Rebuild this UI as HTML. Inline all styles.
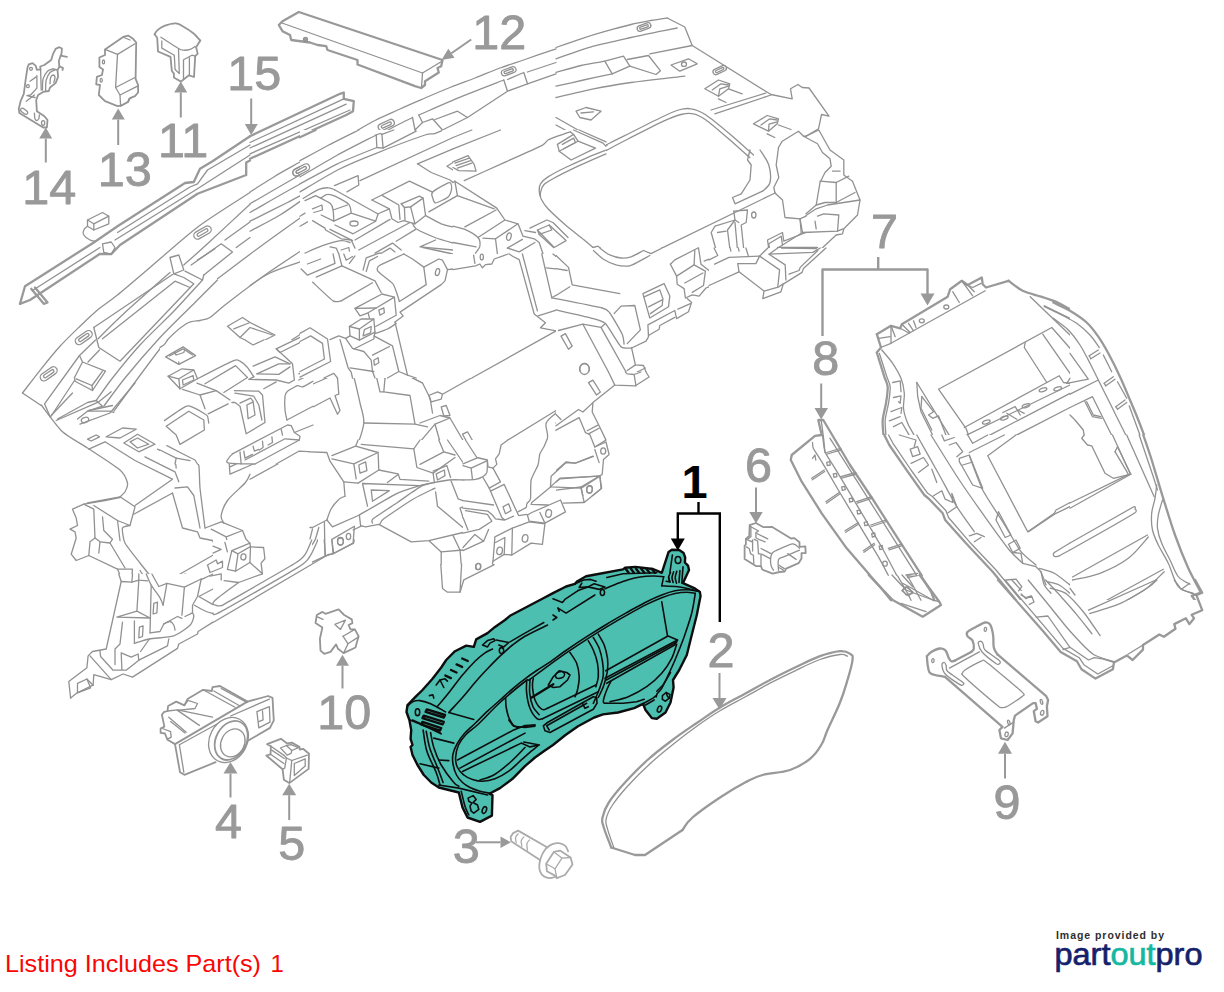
<!DOCTYPE html>
<html lang="en">
<head>
<meta charset="utf-8">
<title>Instrument Cluster Parts Diagram</title>
<style>
html,body{margin:0;padding:0;background:#fff;}
body{width:1224px;height:992px;overflow:hidden;position:relative;font-family:"Liberation Sans",sans-serif;}
svg{position:absolute;left:0;top:0;display:block;}
svg path,svg ellipse,svg rect{fill:none;stroke:#919191;stroke-width:1.3;stroke-linejoin:round;stroke-linecap:round;}
svg .o path,svg .o ellipse,svg path.o{stroke-width:2.3;stroke:#999;}
svg .o2 path,svg .o2 ellipse{stroke-width:1.8;stroke:#959595;}
svg .t path,svg .t ellipse{stroke:#0d0d0d;stroke-width:1.6;}
svg .t path.tf{fill:#4cbfb0;stroke:#0d0d0d;stroke-width:2.4;}
svg .t path.tk{stroke-width:2.4;}
svg rect.w,svg path.wf{fill:#fff;stroke:none;}
svg ellipse.wfs{fill:#fff;}
svg .lt path{stroke:#ababab;}
svg .ar path{stroke:#999;stroke-width:2.4;stroke-linecap:butt;}
svg .ar path.h{fill:#999;stroke:none;}
svg .ar path.s{stroke-width:2;}
svg .ab path{stroke:#000;stroke-width:2.4;stroke-linecap:butt;stroke-linejoin:miter;}
svg .ab path.h{fill:#000;stroke:none;}
svg text{font-family:"Liberation Sans",sans-serif;}
svg .lb text{fill:#999;font-size:48.5px;stroke:#999;stroke-width:0.9px;stroke-linejoin:round;}
svg .lb text.b{fill:#000;font-weight:bold;font-size:47px;stroke:none;}
</style>
</head>
<body>
<svg width="1224" height="992" viewBox="0 0 1224 992">
<!-- 10_small_tl -->
<g class="o2">
<path d="M27.5 67.5 28.8 64.4 32.5 63.1 35.6 65.6 36.9 69.8 40.6 69.4 40.2 66.5 44.4 65 51.2 60 53.1 53.8 55.6 48.8 59.4 47.2 61.9 48.5 61.5 53.8 60 57.5 58.8 61.2 59.4 66.9 57.5 70 58.1 76.9 55.6 83.1 50 87.5 48.8 91 43.1 91.9 38.1 95 36.2 100 36.9 111.2 44.4 116.2 47.5 120 46.9 127.5 43.1 127.5 19.4 113.1 18.8 108.8 20.6 101.2 23.8 93.8 25.6 80Z"/>
<path d="M60.6 55.6 66.9 56.9"/>
<path d="M59.4 66.2 63.1 68.1 62.5 70"/>
<path d="M105 49.4 123.1 36.9 128.1 35.6 133.1 38.8 136.2 42.5 135.6 78.8 138.1 85 138.1 92.5 135 96.2 130 98.1 128.1 101.9 121.2 105.6 117.5 106.2 105 101.2 98.8 95 100 85 96.2 84.4 96.9 76.9 101.9 75 103.1 69.4 99.4 66.9 99.4 57.5 105 55Z"/>
</g>
<ellipse cx="31" cy="68.8" rx="1.4" ry="1.5"/>
<ellipse cx="27.9" cy="86.2" rx="1.4" ry="1.5"/>
<ellipse cx="43.1" cy="123.1" rx="1.6" ry="2.4"/>
<path d="M20.6 110C20.7 109.4 21.4 107.8 22.5 108.1C23.6 108.4 26.9 110.8 27.5 111.9C28.1 112.9 27.2 114.4 26.2 114.4C25.3 114.4 22.8 112.6 21.9 111.9C20.9 111.1 20.5 110.6 20.6 110Z"/>
<path d="M34.4 113.1C34.5 114.2 34.5 117.2 35 118.8C35.5 120.2 36.1 120.6 36.9 120.6C37.6 120.6 38.2 119.9 38.8 118.8C39.2 117.6 39.2 115.8 39.4 115"/>
<path d="M42.5 90C42.6 88.1 42.3 81.9 43.1 78.8C44 75.6 45.8 72.9 47.5 71.2C49.2 69.6 52.2 69.2 53.1 68.8"/>
<path d="M45.6 90.6C45.7 88.9 45.5 83 46.2 80C47 77 48.5 74.2 50 72.5C51.5 70.8 54.2 70.4 55 70"/>
<path d="M50 83.8C50.1 82.5 50 79.2 50.6 77.5C51.2 75.8 52.2 75 53.1 75C54 75 54.9 76 55 77.5C55.1 79 54 81.5 53.8 82.5"/>
<path d="M53.1 68.8 57.5 70"/>
<path d="M30 81.2 36.2 76.9"/>
<path d="M36.9 75.6 36.9 88.1 30.6 95 26.9 95.6 35 97.5"/>
<path d="M26.2 101.2 34.4 95"/>
<path d="M40.6 69.4 41.2 90"/>
<path d="M105 49.4 117.5 54.4 135 43.8"/>
<path d="M117.5 54.4 115.6 87.5 120 95 120.6 106"/>
<path d="M115.6 87.5 135 77.5"/>
<path d="M120 95 137.5 86.2"/>
<path d="M123.8 37.5 130 40"/>
<ellipse cx="103.5" cy="61.9" rx="1.1" ry="1.9"/>
<ellipse cx="101.2" cy="80.2" rx="1.1" ry="1.9"/>
<path d="M128.1 101.9 128.8 98.8 131.9 97.5"/>
<g class="o2">
<path d="M154.6 34.3C155.2 33.5 155.6 31.8 157.6 30.1C159.5 28.5 160.7 27.3 164.3 25.9C167.9 24.6 171.7 23.3 175.6 23.4C179.4 23.6 179.9 24.8 183.5 26.8C187.1 28.8 190.2 30.7 193.6 33.5C196.9 36.2 198.9 39.2 200.3 40.6"/>
<path d="M200.3 40.6 196.1 47.3 197.7 53.6 195.2 56.1 194 77 189 75.3 183.5 79.5 181 81.6 176 78.7 173.9 77.4 173.9 73.6 171.8 70.7 170.5 56.9 158 51.5 157.2 37.7 154.6 34.3"/>
</g>
<path d="M160.9 37.2C163.3 38.7 175.5 46.8 178.5 48.5C181.5 50.3 182 50.1 183.5 50.2C185.1 50.3 188.6 49.9 190.2 49.4C191.8 48.9 194.6 46.8 195.2 46.4"/>
<path d="M161.8 41 161.8 48.1 174.3 55.2 175.1 69.5 179.3 73.6 178.5 49"/>
<path d="M183.5 78.7 183.5 59.8 191.9 55.2 195.2 56.1"/>
<path d="M189.4 57.7 189.4 74.9"/>
<!-- 11_part12 -->
<g class="o">
<path d="M298.8 12 442.5 60 441.2 66.2 437.5 68 438.8 72.5 425 81.2 425 85 421.2 88 415 86.2 357.5 64.5 357.5 60 327.5 50 326.2 46.2 317.5 45 310 42.5 291.2 40 290 35 282.5 31.2 278.8 25 282.5 21.2Z"/>
</g>
<path d="M282 23 422.5 73 442 61.2"/>
<path d="M422.5 73 421.5 87.5"/>
<ellipse cx="305.5" cy="39.5" rx="2" ry="2"/>
<ellipse cx="305.5" cy="39.5" rx="0.9" ry="0.9"/>
<!-- 12_part15 -->
<g class="o">
<path d="M20 303.8 25 286.2 93.8 242.5 117.5 226.2 185 183 193.8 182 200 168.8 212.5 161.2 250 136.2"/>
<path d="M20 303.8 30 300 100 253.8 111.2 254.2 120 245 197.5 193.8 246.2 175 246.2 162.5 250 160.5"/>
<path d="M31.2 288.8 43.8 303.8 47.5 302.5 35 287.5"/>
<path d="M250 136.2 340 93.8 343.8 92.5 343.8 98.8 353.8 101.2 353 111.2 346.2 115 250 158.8"/>
</g>
<path d="M250 142.5 343.8 98.8"/>
<path d="M250 148 346.2 104.2"/>
<path d="M250 153.8 350 110"/>
<path d="M32.5 290.5 100 247.5"/>
<path d="M117.5 232.5 190 187 197.5 183.8 207.5 170 250 145"/>
<path d="M115 240 197.5 188.8 250 155"/>
<path d="M102.5 243.8 111.2 242 115 247.5 111.2 254.2 103.8 252.5Z"/>
<path d="M87.5 220 102.5 212.5 108.8 216.2 108.8 223.8 93.8 230 87.5 226.2Z"/>
<path d="M87.5 220 93.8 223.8 108.8 216.2"/>
<path d="M93.8 223.8 93.8 230"/>
<path d="M87.5 226.2C86.9 226.9 84.4 228.5 83.8 230C83.1 231.5 82.7 233.3 83.8 235C84.8 236.7 88.1 239 90 240C91.9 241 94.2 241 95 241.2"/>
<!-- 20_dash_a -->
<path d="M250 192C254.2 189.4 266.7 181.2 275 176.2C283.3 171.2 291.7 166.7 300 162C308.3 157.3 316.7 152.6 325 148C333.3 143.4 341.7 139.1 350 134.5C358.3 129.9 366.7 124.8 375 120.5C383.3 116.2 391.7 112.8 400 109C408.3 105.2 416.7 101.6 425 98C433.3 94.4 441.7 90.8 450 87.5C458.3 84.2 466.7 81.2 475 78C483.3 74.8 491.7 71.1 500 68C508.3 64.9 515.7 62.7 525 59.5C534.3 56.3 550.8 50.5 556 48.8"/>
<rect x="292.2" y="166.4" width="18.1" height="7.1" rx="3.6" transform="rotate(-28 301.2 170)"/>
<rect x="295.6" y="168.6" width="11.4" height="2.8" rx="1.4" transform="rotate(-28 301.2 170)"/>
<rect x="377.7" y="121.6" width="17.1" height="6.8" rx="3.4" transform="rotate(-25 386.2 125)"/>
<rect x="380.9" y="123.7" width="10.8" height="2.7" rx="1.4" transform="rotate(-25 386.2 125)"/>
<rect x="501.1" y="68.2" width="15.2" height="6" rx="3" transform="rotate(-20 508.8 71.2)"/>
<rect x="503.9" y="70" width="9.6" height="2.4" rx="1.2" transform="rotate(-20 508.8 71.2)"/>
<path d="M250 203.8C260.4 197.8 291.5 179.5 312.5 168C333.5 156.5 365.6 140.5 376.2 135"/>
<path d="M376.2 135 378.8 147.5 383.8 146.2 381.2 133.8"/>
<path d="M381.2 133.8C384 132.3 392.3 127.7 397.5 125C402.7 122.3 410 118.8 412.5 117.5"/>
<path d="M412.5 117.5 415 130 422.5 122.5 418.8 115"/>
<path d="M418.8 115C426 111.9 448.3 102.1 462.5 96.2C476.7 90.4 496.9 82.7 503.8 80"/>
<path d="M503.8 80 507.5 91.2"/>
<path d="M507.5 79.5 523.8 72.5 527.5 83.8"/>
<path d="M527.5 72 556 62.5"/>
<path d="M250 212.5C260.4 206.7 291 188.3 312.5 177.5C334 166.7 367.7 152.5 378.8 147.5"/>
<path d="M383.8 146.2 415 130"/>
<path d="M422.5 122.5 432.5 118.8 442.5 130 467.5 117.5 457.5 111.2 435 119.5"/>
<path d="M467.5 117.5 507.5 91.2 527.5 83.8 556 73.8"/>
<path d="M250 221.2C256.2 218.1 275 208.8 287.5 202.5C300 196.2 313.1 188.3 325 183.8C336.9 179.2 353.1 176.5 358.8 175"/>
<path d="M358.8 175 358.8 185 345 191.2"/>
<path d="M250 231.2C255 228.5 271 220.4 280 215C289 209.6 299.8 201.5 303.8 198.8"/>
<path d="M303.8 198.8 325 187.5 332.5 190 350 211.2 375 220 386.2 212.5 390 208.8"/>
<path d="M315 196.2 322.5 200 330 212.5 345 207.5 332.5 192.5"/>
<path d="M322.5 200 332.5 192.5"/>
<ellipse cx="354.5" cy="223.2" rx="4" ry="2.5"/>
<path d="M311.2 207.5 321.2 203.8 322.5 210 312.5 212.5"/>
<path d="M325 225 350 232.5 355 248"/>
<path d="M303.8 198.8 310 207.5"/>
<path d="M373.8 198.8 407.5 182.5 425 190 435 200 450 193.8 450 183.8 457.5 185 492.5 208.8 515 222.5 522.5 240"/>
<path d="M373.8 198.8 385 207.5 390 208.8 400 208.8 402.5 220 412.5 223.8 422.5 217.5 420 200 410 198.8 403.8 206.2 400 208.8"/>
<path d="M402.5 220 425 225 445 240 475 248"/>
<path d="M422.5 217.5 450 225 490 217.5 492.5 208.8"/>
<path d="M435 200 433.8 192.5 450 183.8"/>
<path d="M420 163.8 447.5 180 450 183.8"/>
<path d="M420 163.8 467.5 155"/>
<path d="M447.5 165 470 156.2 476.2 171.2 460 171.2Z"/>
<path d="M453.8 165 467.5 160 471.2 168.8 461.2 168.8Z"/>
<path d="M465 179.5 500 163.8 540 146.2 556 138"/>
<path d="M556 172.5C554.4 173.8 548.7 177.1 546.2 180C543.8 182.9 541.5 186.2 541.2 190C541 193.8 542.5 198.8 545 202.5C547.5 206.2 554.2 210.8 556 212.5"/>
<ellipse cx="509.2" cy="236.2" rx="2" ry="3.5"/>
<path d="M482.5 235 502.5 230 520 225 525 240 510 248"/>
<path d="M530 227.5 542.5 223.8 556 228.8"/>
<path d="M537.5 232.5 547.5 228.8 556 235"/>
<!-- 20_dash_b -->
<path d="M22.5 393C25 389.8 36.2 375 41.2 368.8C46.2 362.5 54.8 351.9 60 346.2C65.2 340.6 75 331.1 80 326.2C85 321.4 92.5 314.2 97.5 310C102.5 305.8 110.5 300.7 117.5 295C124.5 289.3 139.2 276.7 150 267.5C160.8 258.3 185.4 236.2 198.8 226.2C212.1 216.2 243.2 197 250 192.5"/>
<rect x="74.2" y="333.8" width="19" height="7.5" rx="3.8" transform="rotate(-35 83.8 337.5)"/>
<rect x="77.8" y="336" width="12" height="3" rx="1.5" transform="rotate(-35 83.8 337.5)"/>
<rect x="193" y="228.8" width="19" height="7.5" rx="3.8" transform="rotate(-30 202.5 232.5)"/>
<rect x="196.5" y="231" width="12" height="3" rx="1.5" transform="rotate(-30 202.5 232.5)"/>
<rect x="39.2" y="370" width="19" height="7.5" rx="3.8" transform="rotate(-35 48.8 373.8)"/>
<rect x="42.8" y="372.2" width="12" height="3" rx="1.5" transform="rotate(-35 48.8 373.8)"/>
<path d="M98 338.8C101.6 335.2 115.4 321.3 125 312.5C134.6 303.7 164 277.8 170 272.5"/>
<path d="M170 257.5 178.8 255 183.8 270 173.8 273.8Z"/>
<path d="M183.8 265C187.7 261.5 196.5 253.9 207.5 243.8C218.5 233.6 242.9 210.8 250 204.2"/>
<path d="M95.5 340 79.5 355.5 44.5 403.8 50.5 417.5"/>
<path d="M79.5 355.5 82.5 362 105.5 371.2 92.5 390.5 75 381.2 74.5 377.5 82.5 362"/>
<path d="M76.2 378.8 92 385.5 102.5 371.2"/>
<path d="M92 385.5 92.5 390.5"/>
<path d="M99.5 350 88 362"/>
<path d="M74.5 380.5 50.5 417"/>
<path d="M57.5 419 87.5 402.5 96.2 400.5 102.5 406.2 87.5 411.2 77.5 419"/>
<path d="M87.5 411.2 110 411.2 113.8 412.5"/>
<path d="M93.8 327.5 172.5 274.5"/>
<path d="M93.8 327.5 98.8 347.5 120 361.2 193.8 283.8 183.8 277.5 173.8 273.8"/>
<path d="M102.5 338.8 175 281.2 190 287.5"/>
<path d="M185 271.2 202.5 280 203.8 275"/>
<path d="M191.2 265 221.2 243.8 232.5 252 203.8 275"/>
<path d="M197.5 260 215 248.8"/>
<path d="M217.5 278.8C225 273.1 247.8 255.8 262.5 245C277.2 234.2 298.8 219 306 213.8"/>
<path d="M225 240 250 222"/>
<path d="M236.2 247.5 250 237.5"/>
<path d="M202.5 280C198.8 284 183.3 301.3 175 310C166.7 318.7 148.3 335.9 140 345C131.7 354.1 118.3 370.6 112.5 378C106.7 385.4 98.4 397.5 96.2 400.5"/>
<path d="M103.8 406.2C106.6 402.5 117.5 387.2 125 378C132.5 368.8 150.7 347.6 160 337.5C169.3 327.4 187.3 310.2 195 302.5C202.7 294.8 214.5 283 217.5 280"/>
<path d="M113.8 411.2C120.3 402.4 153.3 356.7 163 345C172.7 333.3 181.3 327 186.2 323.8C191.2 320.5 196.8 321.3 200 320.5C203.2 319.7 206.7 319.6 210 317.5C213.3 315.4 217.7 310.7 225 305C232.3 299.3 254.2 282.7 265 275C275.8 267.3 300.5 251.2 306 247.5"/>
<path d="M227.5 326.2 242.5 317.5 250 322.5 275 335 255 345 240 337.5Z"/>
<path d="M233.8 328.8 250 322.5"/>
<path d="M240 337.5 250 327.5 272.5 335"/>
<path d="M166.2 355 183.8 346.2 195 352.5 188.8 360 178.8 363.8Z"/>
<path d="M175 353.8 186.2 350 187.5 355 176.2 357.5"/>
<path d="M170 373.8 185 368.8 196.2 371.2 197.5 378"/>
<path d="M252.5 366.2 275 356.2 290 363.8 262.5 373.8Z"/>
<path d="M301.2 266.2 306 263.8"/>
<path d="M301.2 266.2 306 273.8"/>
<path d="M22.5 393 41.2 405.5"/>
<!-- 20_dash_c -->
<path d="M250 285.5C253.3 283.4 261.7 277 270 273C278.3 269 289.6 265.5 300 261.8C310.4 258 326.2 252.8 332.5 250.5C338.8 248.2 336.7 248.4 337.5 248"/>
<path d="M302.5 268 332.5 256.8 340 264.2 310 275.5Z"/>
<path d="M313.8 281.8 335 300.5 342.5 299.2 372.5 283"/>
<path d="M340 264.2 375 280.5 381.2 293"/>
<path d="M355 308 381.2 293 393.8 298 395 315.5 375 324.2 368.8 318 357.5 308"/>
<path d="M368.8 318 370 308 393.8 298"/>
<path d="M378.8 309.2 383.8 306.8 383.8 313 378.8 315Z"/>
<path d="M365 270.5 367.5 260.5 397.5 248"/>
<path d="M368.8 269.2 371.2 263 380 259.2"/>
<path d="M377.5 268C378.9 265.6 396.8 255.5 400 254.2C403.2 253 407.5 254.4 410 255.5C412.5 256.6 423.4 262.8 425 265.5C426.6 268.2 428.8 279.5 426.2 283C423.8 286.5 403.2 300 400 300.5C396.8 301 395.1 290.2 393.8 288C392.4 285.8 387.9 280 386.2 278C384.6 276 376.1 270.4 377.5 268Z"/>
<path d="M425 265.5 436.2 259.2 445 263 448.8 271.8 442.5 283 400 310.5 403.8 314.2 400 319.2 396.2 320.5"/>
<ellipse cx="437.5" cy="272.2" rx="2.2" ry="3.5"/>
<path d="M448.8 270.5 476.2 265 475 256.8 480 251.8 487.5 250.5 491.2 260.5 510 251.8 516.2 258"/>
<ellipse cx="482" cy="256.8" rx="2" ry="3.5"/>
<path d="M482.5 268 486.2 264.2 491.2 266.8"/>
<path d="M396.2 323C396.9 327.2 398.1 339.5 400 348C401.9 356.5 406.2 369.9 407.5 374.2"/>
<path d="M390 345.5 398.8 371.8"/>
<path d="M516.2 258C517.7 262.6 521.5 275.9 525 285.5C528.5 295.1 535.4 310.5 537.5 315.5"/>
<path d="M537.5 315.5 547.5 321.8 541.2 328 553.8 331.8 442.5 394.2 437.5 391.8 428.8 395.5 431.2 401.8 441.2 399.2 442.5 394.2"/>
<path d="M521.2 255.5 532.5 293 537.5 310.5"/>
<path d="M525 253 556 293"/>
<path d="M537.5 248 556 270.5"/>
<path d="M348.8 325.5 365 318 375 320.5 373.8 334.2 358.8 344.2 348.8 336.8Z"/>
<path d="M348.8 325.5 360 329.2 375 320.5"/>
<path d="M360 329.2 358.8 344.2"/>
<path d="M363.8 329.2 372.5 325.5 371.2 333 362.5 335.5Z"/>
<path d="M330 339.2 337.5 335.5 350 348 360 348 370 360.5 375 370.5 380 391.8 383.8 391.8"/>
<path d="M337.5 335.5C339.8 340.9 347.5 356.8 351.2 368C355 379.2 357.9 393.8 360 403C362.1 412.2 364.2 415.9 363.8 423C363.3 430.1 358.5 441.8 357.5 445.5"/>
<path d="M360 348 375 343 390 335.5 397.5 368"/>
<path d="M373.8 359.2 378.8 356.8 378.8 363 374.2 365.5Z"/>
<path d="M385 378 400 373 412.5 378 422.5 383 430 398 432.5 413"/>
<path d="M385 378 383.8 391.8 410 395.5 415 424.2"/>
<path d="M412.5 378 422.5 383"/>
<path d="M363.8 423 415 424.2 427.5 426.8"/>
<path d="M350 369.2 373.8 370.5"/>
<path d="M277.5 349.2 310 328 322.5 335.5 330 343 325 360.5 297.5 373"/>
<path d="M285 351.8 310 335.5 322.5 343 323.8 359.2 301.2 370.5"/>
<path d="M277.5 349.2 293.8 363 295 380.5 286.2 383"/>
<path d="M265 388 285 379.2"/>
<path d="M285 395.5 300 385.5 303.8 388 332.5 375.5 337.5 378 338.8 394.2 335 395.5 340 410.5 337.5 414.2 330 398 287.5 420.5Z"/>
<path d="M250 391.8 261.2 389.2 262.5 423 250 430.5"/>
<path d="M250 403 255 401.8 256.2 415.5 250 418"/>
<path d="M250 442.5 288.8 424.2 301.2 438 250 465.5"/>
<path d="M293.8 430.5 297.5 440.5 250 457.5"/>
<path d="M260 435 261.2 442.5 257 445"/>
<path d="M271.2 431.6 272.5 439.1 268.2 441.6"/>
<path d="M281.2 428.6 282.5 436.1 278.2 438.6"/>
<path d="M250 479.2 300 451.8 326.2 453 345 483 343.8 496"/>
<path d="M332.5 459.2 357.5 446.8 377.5 451.8 378.8 469.2 357.5 481.8 346.2 483"/>
<path d="M332.5 459.2 353.8 465.5 377.5 451.8"/>
<path d="M353.8 465.5 355 480.5"/>
<path d="M358.8 465.5 366.2 463 366.2 470.5 359.5 473Z"/>
<path d="M361.2 445.5 413.8 449.2 435 424.2 450 418 440 415.5 420 423"/>
<path d="M413.8 449.2 415 465.5"/>
<path d="M435 424.2 442.5 450.5 420 465.5"/>
<path d="M442.5 450.5 455 458 440 468 432.5 471.8 433.8 483"/>
<path d="M436.2 474.2 443.8 470.5 445 475.5 437.5 479.2Z"/>
<path d="M450 418 467.5 448 487.5 463 485 475.5 471.2 479.2 470 468 465 465.5"/>
<path d="M470 468 486.2 460.5"/>
<path d="M441.2 406.8 446.2 405.5 450 415.5 443.8 416Z"/>
<path d="M462.5 434.2 467.5 431.8 472.5 440.5 467.5 443Z"/>
<path d="M556 410.5 501.2 444.2 500 453 495 460.5 496.2 465.5 491.2 468 487.5 463"/>
<path d="M491.2 468 502.5 483 507.5 496"/>
<path d="M485 475.5 490 490.5 500 496"/>
<path d="M556 413C554.4 414.7 547.7 418.8 546.2 423C544.8 427.2 548.5 432.6 547.5 438C546.5 443.4 542.5 449.7 540 455.5C537.5 461.3 533.3 467.6 532.5 473C531.7 478.4 534.6 485.5 535 488"/>
<path d="M362.5 483 396.2 473 400 479.2 430 481.8"/>
<path d="M377.5 470.5 400 475.5"/>
<path d="M362.5 483 367.5 496"/>
<path d="M370 490.5 387.5 489.2"/>
<path d="M390 496 425 483"/>
<path d="M445 468 450 483 455 496"/>
<path d="M425 496 440 488"/>
<!-- 20_dash_d -->
<path d="M41.2 405C43.7 408.1 57.1 426.7 62.5 431.8C67.9 436.8 80.8 443.5 87.5 448C94.2 452.5 115.3 465.9 120 470C124.7 474.1 126.9 480.5 127.5 483C128.1 485.5 125.9 490.1 125 491.8C124.1 493.4 120.1 496.8 119.5 497.5"/>
<path d="M51.2 415.5 72.5 393"/>
<path d="M56.2 420.5 98.8 401.8 111.2 391.8"/>
<path d="M88.8 410.5 112.5 405.5"/>
<ellipse cx="85" cy="420" rx="3.8" ry="2.5" transform="rotate(-20 85 420)"/>
<path d="M80 424.2 110 413 135 383"/>
<path d="M87.5 439.2 96.2 435 99.5 436.8 91.2 441Z"/>
<path d="M106.2 436.8 122.5 428 136.2 429.2 120 438Z"/>
<path d="M123.8 443 137.5 434.2 155 444.2 138.8 451.8Z"/>
<path d="M130 441.8 137.5 438 148.8 444.2 137.5 448Z"/>
<path d="M88.8 449.2 105 441.8 135 460.5 172.5 479.2 135 505.5"/>
<path d="M145 456.8 175 471.8 178.8 481.8"/>
<path d="M157.5 449.2 175 458 192.5 460.5"/>
<path d="M175 458 176.2 468"/>
<path d="M167.5 445.5C170 446.8 189.4 456 192.5 458C195.6 460 198 462.5 198.8 465.5C199.5 468.5 199.4 481.8 200 488C200.6 494.2 204.5 524 205 528"/>
<path d="M175 488 187.5 486.8 193.8 495.5 200 528"/>
<path d="M172.5 493 182.5 528 197.5 531.8 200 538 212.5 540.5 215 545.5 221.2 550.5 160 585.5 155 581.8"/>
<path d="M133.8 514.2 172.5 493"/>
<path d="M130 525.5C129.2 525.8 123 526.2 122.5 528C122 529.8 123.2 539.5 125 543C126.8 546.5 137.5 559.8 140 563C142.5 566.2 148 573.2 150 575.5C152 577.8 159 584.5 160 585.5"/>
<path d="M119.5 497.5 105 500.5 83.8 504.2 72.5 509.2 76.2 518 77.5 525.5 70 529.2 75 531.8 76.2 538 71.2 554.2 76.2 560.5 88.8 555.5 117.5 569.2 122.5 580.5 111.2 626"/>
<path d="M83.8 504.2 93.8 509.2 95 538 90 541.8 88.8 555.5"/>
<path d="M95 538 100 541.8 98.8 553"/>
<path d="M102.5 516.8 103.8 530.5 112.5 539.2 110 543"/>
<path d="M87.5 503 120 496.8 135 506.8 130 525.5 117.5 520.5 93.8 505.5"/>
<path d="M117.5 520.5 120 540.5"/>
<path d="M100 541.8 110 543 125 568"/>
<path d="M117.5 569.2 132.5 569.2 131.2 580.5 122.5 580.5"/>
<path d="M137.5 583 138.8 593 136.2 610.5 117.5 618"/>
<path d="M136.2 610.5 150 618"/>
<path d="M140 570.5 150 585.5 160 605.5 163.8 604.2 166.2 585.5"/>
<path d="M151.2 585.5 150 626"/>
<path d="M153.8 604.2 157.5 603 156.2 611.8 153 613Z"/>
<path d="M166.2 585.5 175 581.8 185 588 183.8 603 180 618"/>
<path d="M185 574.2 201.2 579.2 197.5 595.5 192.5 605.5 193.8 626"/>
<path d="M175 581.8 185 574.2"/>
<path d="M165 621.8 175 616.8 180 618"/>
<path d="M117.5 618 117.5 626"/>
<path d="M135 619.2 135 626"/>
<path d="M205 528 221.2 521.8 242.5 530.5 247.5 543 263.8 548 265 558 260 564.2 262.5 573 238.8 581.8 225 581.8"/>
<path d="M211.2 529.2 226.2 536.8 242.5 530.5"/>
<path d="M226.2 536.8 228.8 550.5"/>
<path d="M231.2 550.5 250 544.2 251.2 561.8 233.8 570.5 228.8 569.2Z"/>
<path d="M233.8 570.5 236.2 553"/>
<ellipse cx="243" cy="556.8" rx="2" ry="2.5"/>
<path d="M200 595.5 215 604.2 220 605.5 250 590"/>
<path d="M197.5 601.8 210 609.2 220 610.5 250 595"/>
<path d="M212.5 598 217.5 604.2"/>
<path d="M200 595.5 202.5 590.5 225 581.8"/>
<path d="M207.5 626 250 604.2"/>
<path d="M250 474.2C249.2 475.7 248.8 478.6 245 483C241.2 487.4 231.5 495.1 227.5 500.5C223.5 505.9 221.9 511.8 221.2 515.5C220.6 519.2 223.3 521.8 223.8 523"/>
<path d="M165 420.5 185 406.8 197.5 409.2 207.5 415.5 208.8 423 203.8 431.8 180 444.2 172.5 428Z"/>
<path d="M172.5 428 195 415.5 203.8 419.2 203.8 431.8"/>
<path d="M175 378 180 389.2 200 383"/>
<path d="M185 388 200 394.2 207.5 408"/>
<path d="M200 394.2 217.5 385.5 227.5 396.8 207.5 408"/>
<path d="M227.5 396.8 250 387.5"/>
<path d="M231.2 403 240 399.2 246.2 433 250 431.2"/>
<path d="M235 393 250 395.5"/>
<path d="M246.2 403 253.8 400.5 255 415.5 247.5 418Z"/>
<path d="M228.8 458 240 448 250 443"/>
<path d="M250 465.5 230 474.2 228.8 458"/>
<path d="M230 466.8 250 457.5"/>
<path d="M240 450.5 241.2 461.8"/>
<path d="M247.5 449.2 248.8 458"/>
<!-- 20_dash_e -->
<path d="M250 589C253.3 587.3 268.3 580.1 275 576C281.7 571.9 295.3 562.5 300 558.5C304.7 554.5 308.3 550 310 546C311.7 542 311.5 531.3 312.5 528.5C313.5 525.7 315.8 525.6 317.5 524.8C319.2 523.9 324 522.6 325 522.2"/>
<path d="M250 594C253.7 592.1 270.3 584.1 277.5 579.8C284.7 575.4 298.8 565.8 303.8 561.5C308.8 557.2 313 551.6 315 547.2C317 542.9 317.6 531.7 318.8 528.5C319.9 525.3 323.1 524.2 323.8 523.5"/>
<path d="M250 599.8C254 597.6 272.3 588.2 280 583.5C287.7 578.8 301.7 568.4 307.5 564.8C313.3 561.1 321.6 557.2 323.8 556"/>
<path d="M331.2 536 353.8 526 355 542.2 333.8 553.5Z"/>
<ellipse cx="340" cy="541.8" rx="2.5" ry="3"/>
<ellipse cx="348.8" cy="536.8" rx="2.2" ry="2.8"/>
<path d="M325 522.2 326.2 554.8 333.8 553.5"/>
<path d="M325 522.2 355 507.2 367.5 496"/>
<path d="M332.5 508.5 337.5 501 345 496"/>
<path d="M355 526 365 521 367.5 526 382.5 518.5 386.2 524.8 410 542.2 435 541 455 534.8 490 524.8 485 514.8 462.5 511 460 503.5 455 496"/>
<path d="M365 521 387.5 503.5 405 496"/>
<path d="M382.5 518.5 400 511 435 496"/>
<path d="M440 553.5 456.2 546 467.5 537.2 500 528.5 512.5 526 515 521 532.5 516 535 521 543.8 519.8 545 528.5 556 526"/>
<path d="M440 553.5 442.5 588.5 447.5 592.2 460 592.2 463.8 579.8 493.8 564.8 496.2 538.5 505 534.8 512.5 526"/>
<path d="M456.2 546 462.5 548.5 460 592.2"/>
<path d="M462.5 548.5 490 536 486.2 528.5"/>
<path d="M462.5 548.5 472.5 533.5 482.5 539.8"/>
<ellipse cx="478.2" cy="566.5" rx="2.5" ry="3.2"/>
<path d="M493.8 564.8 493.8 541 505 537.2 503.8 559.8 495 561.5"/>
<ellipse cx="499.5" cy="551" rx="2.2" ry="3"/>
<path d="M512.5 528.5 512.5 553.5 541.2 541 545 528.5"/>
<ellipse cx="525" cy="538" rx="2.5" ry="3.2"/>
<path d="M541.2 541 556 533.5"/>
<path d="M500 503.5 510 501 512.5 509.8 503.8 512.2Z"/>
<path d="M490 524.8 500 528.5"/>
<path d="M532.5 516 531.2 508.5 542.5 503.5 556 506"/>
<ellipse cx="548.2" cy="514" rx="2.5" ry="3.2"/>
<path d="M465 511 495 498.5 500 503.5"/>
<path d="M250 544.8 261.2 547.2 265 556 261.2 561 262.5 568.5 250 573.5"/>
<!-- 20_dash_f -->
<path d="M556 47.5C559.3 46.3 574.3 40.9 581 38.8C587.7 36.6 599.3 33.1 606 31.2C612.7 29.4 625 25.9 631 24.5C637 23.1 646.2 21.4 651 20.5C655.8 19.6 665.1 18.3 667.2 18"/>
<path d="M667.2 18 684.8 27 692.2 45.5 771 94.5 792.2 98.8 790.5 88.8 798 84.5 802.2 87.5 809 88 829 116.2 821.5 114.5 818.5 128.8 806 136.2"/>
<path d="M556 58.8C561 57.1 583.5 49.1 593.5 46.2C603.5 43.4 622 39.5 631 37.5C640 35.5 654.8 32.5 661 31.2C667.2 30 675.1 28.4 677.2 28"/>
<rect x="636.9" y="24.2" width="14.2" height="5.6" rx="2.8" transform="rotate(-20 644 27)"/>
<rect x="639.5" y="25.9" width="9" height="2.2" rx="1.1" transform="rotate(-20 644 27)"/>
<rect x="712.6" y="67.2" width="14.2" height="5.6" rx="2.8" transform="rotate(-25 719.8 70)"/>
<rect x="715.2" y="68.9" width="9" height="2.2" rx="1.1" transform="rotate(-25 719.8 70)"/>
<path d="M556 72.5C559.3 71.6 574.5 67 581 65.5C587.5 64 601.6 61.8 604.8 61.2"/>
<path d="M604.8 61.2 623.5 56.2 629.8 66.2 612.2 73.8Z"/>
<path d="M627.2 59.5 648.5 55.5 660.5 70.8 656 74.5 629.8 66.2"/>
<path d="M612.2 73.8C608.4 74.6 591 78.3 583.5 80C576 81.7 559.7 85.4 556 86.2"/>
<path d="M556 97.5C561 96.3 583.5 90.8 593.5 88.8C603.5 86.8 622 83.8 631 82.5C640 81.2 653.8 79.6 661 78.8C668.2 77.9 681.6 76.6 684.8 76.2"/>
<path d="M649.8 53.8 692.2 45.5"/>
<path d="M671 65 688.5 58.8 697.2 63.8 679.8 71.2Z"/>
<ellipse cx="684" cy="64.2" rx="2.5" ry="2.2"/>
<path d="M704.8 88.8 718.5 80 729.8 83.8 728.5 88.8 718.5 96.2Z"/>
<path d="M712.2 90 721 83.8 728.5 85"/>
<path d="M718.5 96.2 719.8 88.8 728.5 86.2"/>
<path d="M728.5 88.8 742.2 93.8"/>
<path d="M718.5 98.8 726 102.5"/>
<path d="M753.5 123.8 767.2 115.5 778.5 118.8 777.2 123.8 768.5 131.2Z"/>
<path d="M761 125 769.8 118.8 777.2 120"/>
<path d="M768.5 131.2 769 124.2 777.2 121.8"/>
<path d="M778.5 125 791 129.5"/>
<path d="M767.2 133.8 774.8 137.5"/>
<path d="M711 110 766 93"/>
<path d="M714.8 113.8 771 95"/>
<path d="M556 172.5C562.7 168.8 596 150.3 606 145C616 139.7 623.7 136.2 631 132.5C638.3 128.8 654.7 120.5 661 117.5C667.3 114.5 674.5 111.2 678.5 110C682.5 108.8 687.3 108.1 691 108.8C694.7 109.4 700.7 111.5 706 115C711.3 118.5 724.7 129.7 731 135C737.3 140.3 750.5 152.3 753.5 155"/>
<path d="M556 178.8C562.8 174.9 596.9 155.7 607.2 150C617.6 144.3 626 140.1 633.5 136.2C641 132.4 657.2 124.2 663.5 121.2C669.8 118.3 677 115.5 681 114.5C685 113.5 690.2 113 693.5 113.8C696.8 114.5 701.3 116.7 706 120C710.7 123.3 722.7 133.8 728.5 138.8C734.3 143.8 746.9 155 749.8 157.5"/>
<path d="M557.2 145 571 136.2 593.5 147.5 571 160Z"/>
<path d="M561 150 573.5 142.5 576 146.2 564.8 152.5"/>
<path d="M556 117.5 602.2 143.8 607.2 145"/>
<path d="M556 125 597.2 147.5"/>
<path d="M576 111.2 586 107.5 601 111.2 591 120 579.8 117.5Z"/>
<path d="M581 113 593.5 111.8"/>
<path d="M778.5 147.5 782.2 141.2 798.5 131.2 803.5 136.2 806 136.2"/>
<!-- 20_dash_g -->
<path d="M556 218.8C557.2 220.2 560.1 226.2 565 230C569.9 233.8 588.8 245.2 592.5 247.5"/>
<path d="M592.5 247.5 596.2 246.2 610 255"/>
<path d="M610 255C612.5 255.5 620 258.6 625 258C630 257.4 637.5 252.4 640 251.2"/>
<path d="M640 251.2 650 253.8 775 193"/>
<path d="M556 228.8 567.5 237.5 556.2 246.2"/>
<path d="M778.5 147.5 776.2 165 778.8 177.5 773.8 187.5 775 193"/>
<path d="M760 150C761.5 152.5 767.1 159.6 768.8 165C770.4 170.4 771 178.1 770 182.5C769 186.9 763.8 189.8 762.5 191.2"/>
<path d="M750 150 747.5 160 751.2 165 750 180 741.2 193.8 732.5 197.5 735 203.8 762.5 191.2"/>
<path d="M775 193 782.5 200 785 217.5 800 218.8 806 216.2"/>
<path d="M733.8 211.2 747.5 210 746.2 222.5 741.2 225 743.8 250 747.5 255"/>
<ellipse cx="753.8" cy="215" rx="2.2" ry="3"/>
<path d="M733.8 211.2 735 220 738.8 222.5"/>
<path d="M711.2 232.5 715 226.2 735 220 727.5 230 730 250 717.5 255Z"/>
<path d="M717.5 232.5 726.2 231.2"/>
<path d="M735 222.5 737.5 250"/>
<path d="M705 260 717.5 255"/>
<path d="M670 265 677.5 260 697.5 250 700 260 706.2 267.5 707.5 285 700 295 692.5 293.8 691.2 300 685 297.5 683.8 290 676.2 282.5 677.5 275Z"/>
<path d="M677.5 275 693.8 265 697.5 250"/>
<path d="M693.8 265 706.2 267.5"/>
<path d="M685 281.2 702.5 272.5"/>
<path d="M715 263.8 758.8 256.2 755 263.8 738.8 263.8 740 270 765 286.2 783.8 286.2 781.2 293.8 763.8 298.8 765 286.2"/>
<path d="M740 270 707.5 285"/>
<path d="M758.8 256.2 768.8 248.8 767.5 240 782.5 232.5 783.8 241.2 806 232.5"/>
<path d="M758.8 256.2 778.8 267.5 780 285"/>
<path d="M768.8 250 806 248.8"/>
<path d="M770 255 785 263.8 785 280"/>
<path d="M787.5 275 800 270 806 260"/>
<path d="M800 218.8 801.2 232.5"/>
<path d="M643.8 295 660 283.8 666.2 286.2 670 300 665 306.2 650 316.2Z"/>
<path d="M646.2 297.5 661.2 288.8 662.5 305 650 312.5"/>
<path d="M650 306.2 662.5 300"/>
<path d="M675 310 687.5 303.8 690 306.2 687.5 313.8 677.5 318.8Z"/>
<path d="M660 322.5 675 316.2"/>
<path d="M650 325 660 322.5 660 328.8 650 332.5"/>
<path d="M556 268.8 567.5 270 572.5 286.2 617.5 293.8"/>
<path d="M572.5 286.2 556 294.5"/>
<path d="M556 297 605 308.8 613.8 316.2 625 343.8 638.8 330 635 306.2 622.5 306.2 615 316.2"/>
<path d="M560 310 605 322.5 625 345 632.5 347.5 650 335 647.5 322.5 650 325"/>
<path d="M605 322.5 600 325 558.8 330"/>
<path d="M583.8 326.2 617.5 385 635 386.2 646.2 376.2 643.8 366.2 636.2 365 632.5 347.5"/>
<path d="M600 325 627.5 372.5 636.2 365"/>
<path d="M627.5 372.5 635 386.2"/>
<path d="M617.5 385 600 398"/>
<path d="M561.2 335 565 333.8 572.5 346.2 568.8 348.8Z"/>
<ellipse cx="583.8" cy="368.8" rx="4.2" ry="5.5"/>
<path d="M588.8 383.8 593.8 381.2 601.2 391.2 596.2 395Z"/>
<!-- 20_dash_h -->
<path d="M806 136.2 818.8 130 830 150 843.8 160 843.8 175 852.5 181.2 860 200 857.5 215 843.8 228.8 842.5 233.8 836.2 235 801.2 267.5 798.8 272.5 787.5 276.2 786.2 283.8 782.5 285 781.2 292.5 765 298.8 762.5 292.5 777.5 285 780 275"/>
<path d="M803.5 136.2 817.5 143.8 822.5 152.5 830 158.8 831.2 166.2 825 172.5 820 182.5 816.2 205 806 213.8"/>
<path d="M832.5 171.2 840 171.2"/>
<path d="M820 181.2 836.2 182.5 848.8 176.2"/>
<path d="M836.2 182.5 836.2 202.5"/>
<path d="M816.2 205 825 202.5 836.2 202.5 855 192.5"/>
<path d="M806 215.5 816.2 208.8 827.5 205 860 200"/>
<path d="M817.5 216.2 823.8 213.8 838.8 215 837.5 231.2 802.5 232.5"/>
<path d="M815 221.2 816.2 228.8"/>
<path d="M837.5 231.2 843 228.8"/>
<path d="M800 218.8 802.5 232.5 782.5 245 781.2 236.2 768.8 243.8 770 252.5 760 256.2 750 257.5"/>
<path d="M782.5 245 768.8 253.8 783.8 263.8 787.5 272.5"/>
<path d="M777.5 247.5 817.5 247.5"/>
<path d="M775 253.8 810 252.5"/>
<path d="M783.8 263.8 782.5 285"/>
<path d="M760 256.2 777.5 270 777.5 285"/>
<!-- 20_dash_i -->
<path d="M556 430.5 579.8 418 588.5 430.5 593.5 428 592.2 408 599.8 398"/>
<path d="M588.5 430.5 591 439.2 597.2 435.5 596 425.5"/>
<path d="M591 439.2 594.8 448 601 444.2 609.8 451.8 606 460.5 603.5 470.5 561 491.8"/>
<ellipse cx="603" cy="451.2" rx="2.8" ry="3.8"/>
<path d="M594.8 448 597.2 461.8 603.5 470.5"/>
<path d="M556 461.8 596 446.8"/>
<path d="M556 480.5 581 473 602.2 476.8 601 495.5 583.5 501.8 561 491.8"/>
<ellipse cx="589.2" cy="490" rx="2.8" ry="3.5"/>
<path d="M581 473 582.2 496.8 556 508"/>
<path d="M556 499.2 562.2 503 556 518"/>
<path d="M556 413 562.2 418 556 423"/>
<!-- 25_patch_k -->
<rect x="160" y="340" width="153" height="124" class="w"/>
<path d="M165.6 356.9 183.1 346.9 195.6 355.6 178.8 364.4Z"/>
<path d="M169.4 356 183.1 348.8 192.5 355"/>
<path d="M178.8 364.4 178.8 361.9"/>
<path d="M174.4 352.5 176.2 355 183.8 352.5 184.4 350.6"/>
<path d="M168.1 376.2 181.9 368.8 193.8 370 197.5 378.8 180 388.8Z"/>
<path d="M168.1 376.2 178.8 378.8 193.8 370"/>
<path d="M178.8 378.8 180 388.8"/>
<path d="M182.5 380 193.1 375.6 193.8 380 183.1 385Z"/>
<path d="M197.5 378.8C201.1 376.9 229.5 362.4 233.8 360.6C238 358.9 238.6 360.6 240 361.2C241.4 361.9 246.1 365.9 247.5 367.5C248.9 369.1 253.1 375.9 253.8 376.9"/>
<path d="M205 383.8 235.6 365.6 247.5 377.5 223.8 392.5"/>
<path d="M182.5 389.4 200 395 216.2 390.6 230 400"/>
<path d="M196.9 383.1 216.2 390.6"/>
<path d="M200 395 205 408.8"/>
<path d="M253.8 376.9 248.8 379.4 276.2 380 288.8 383.1 294.4 380 292.5 363.8 276.2 348.8 313 331.2"/>
<path d="M253.1 366.2 275 356.9 290 363.8"/>
<path d="M256.9 373.8 278.8 363.8 290 363.8"/>
<path d="M256.9 373.8 278.8 374.4 290 366.9"/>
<path d="M276.2 348.8 280 352.5 313 336.2"/>
<path d="M298.8 373.8 313 366.9"/>
<path d="M298.8 380 313 373.1"/>
<path d="M263.8 388.8 276.2 381.9"/>
<path d="M234.4 390.6 258.8 391.2 262.5 395 265 422.5 246.2 433.8 240 406.2 235 402.5 231.9 402.5"/>
<path d="M235 393.1 253.8 396.2 258.8 405 261.9 420"/>
<path d="M240 403.1 250.6 398.1 253.1 401.2"/>
<path d="M246.9 405 253.1 401.9 255 415 248.1 418.8Z"/>
<path d="M208.1 413.8 228.1 403.8"/>
<path d="M164.4 420.6C166.4 419.2 182.4 408.3 185 406.9C187.6 405.4 188.2 405.7 190 406.2C191.8 406.8 200.8 411.5 202.5 412.5C204.2 413.5 206.9 415.2 207.5 416.2C208.1 417.3 208.6 422.4 208.8 423.1"/>
<path d="M166.2 426.2 188.8 411.2 203.8 420 204.4 430 180 444.4 176.2 435Z"/>
<path d="M313 381.2C311.9 381.8 304.1 386.4 302.5 386.9C300.9 387.3 299 385.2 297.5 385.6C296 386.1 288.8 390.2 287.5 391.2C286.2 392.3 285.2 394.4 285 396.2C284.8 398.1 284.8 407.6 285 410C285.2 412.4 286.7 419 286.9 420"/>
<path d="M286.9 420 313 406.2"/>
<path d="M255 464C250.6 463.9 233.1 464.1 228.8 463.1C224.4 462.1 228.1 459.7 228.8 458.1C229.4 456.6 231.9 454.5 232.5 453.8"/>
<path d="M232.5 453.8 287.5 425 291.2 425.6 294.4 432.5 300 436.2 299.4 440 255 464"/>
<path d="M294.4 432.5 313 425"/>
<path d="M240 451.9 241.2 464"/>
<path d="M243.8 451.2 245 458.1 252.5 454.4"/>
<path d="M253.1 446.2 254.4 451.2 258.8 449.4"/>
<path d="M262.5 441.2 263.1 447.5 259.4 450"/>
<path d="M271.9 436.9 272.5 442.5 268.1 445"/>
<path d="M281.2 429.4 282.5 435"/>
<path d="M245 460 285 438.8 299.4 440"/>
<path d="M166.9 445.6 185 455 195 460 197.5 464"/>
<path d="M160 450 176.2 458.1 175 464"/>
<path d="M176.2 458.1 190 460.6"/>
<path d="M276.2 464 298.8 451.2 313 451.9"/>
<path d="M245 340 253.1 345 263.8 340"/>
<path d="M160 347.5C160.7 347 163.1 345.6 164.4 344.4C165.6 343.1 167 340.7 167.5 340"/>
<!-- 26_patch_m1 -->
<rect x="300" y="130" width="153" height="124" class="w"/>
<path d="M300 137.2 315.6 130" class="o"/>
<path d="M300 160.6C302.9 159.1 322.9 148.1 328.8 145C334.6 141.9 355.8 131.5 358.8 130"/>
<rect x="292.2" y="166.4" width="18.1" height="7.1" rx="3.6" transform="rotate(-28 301.2 170)"/>
<rect x="295.6" y="168.6" width="11.4" height="2.8" rx="1.4" transform="rotate(-28 301.2 170)"/>
<path d="M300 176.9C303.8 174.7 329.9 159.2 337.5 155C345.1 150.8 372.4 137 376.2 135"/>
<path d="M376.2 135 376.9 147.5 383.1 148.1 381.9 134.4"/>
<path d="M376.2 135 380 133.5 381.9 134.4"/>
<path d="M381.9 134.4 393.8 130"/>
<path d="M300 183.8C303.8 181.8 329.8 167.4 337.5 163.8C345.2 160.1 372.9 149.1 376.9 147.5"/>
<path d="M383.1 148.1 416.2 131.2 415 130"/>
<path d="M300 191.9C303.8 189.7 330 173.8 337.5 170C345 166.2 366.2 157.2 375 153.8C383.8 150.2 419.1 137 425 135C430.9 133 432.1 134.2 433.8 133.8C435.4 133.3 441.1 130.9 441.9 130.6"/>
<path d="M334.4 185.6 358.1 175.6 358.8 185 346.9 191.9"/>
<path d="M360 180.6 453 137.5"/>
<path d="M417.5 163.8 453 148.8"/>
<path d="M417.5 163.8 431.2 172.5 450 180 453 182.5"/>
<path d="M453 162.5 446.9 166.2 453 170"/>
<path d="M303.1 198.5C305.7 197 314.5 191.2 318.8 189.4C323 187.6 326 187.6 328.8 187.8C331.5 187.9 334 189.6 335 190"/>
<path d="M335 190 378.1 214 375.6 221.2 351.2 213.1 333.8 221.2 321.2 215"/>
<path d="M320.6 198.1C321.5 197.6 325.6 194.6 327.5 194.4C329.4 194.1 332.2 194.9 335 196.2C337.8 197.6 346.6 202.1 348.8 204.4C350.9 206.6 350.9 212 351.2 213.1"/>
<path d="M320.6 198.1C322 198.9 329 202.2 330.6 203.8C332.3 205.3 332.7 207.7 333.1 210C333.5 212.3 333.7 219.8 333.8 221.2"/>
<path d="M333.1 210 347.5 205"/>
<path d="M305 200.6 315.6 195.6 320.6 198.1"/>
<path d="M312.5 208.8 321.9 205 322.5 210 313.8 212.5"/>
<path d="M300 216.2 305 213.1"/>
<path d="M335 225 353.1 233.8 375.6 221.2"/>
<ellipse cx="354" cy="223.5" rx="4.1" ry="2.5"/>
<path d="M312.5 220.6 325 228.1 325.6 230 341.2 238.8 351.2 240 355 248.1"/>
<path d="M330 229.4 352.5 240.6"/>
<path d="M300 226.2 307.5 221.9"/>
<path d="M355 240 390 219.4"/>
<path d="M358.8 250 410 222.5"/>
<path d="M375 253.1 392.5 243.1 401.2 250"/>
<path d="M380 254 390 248.1 395 251.9"/>
<path d="M396.2 241.2 415.6 229.4"/>
<path d="M305 253.1C307.3 252.1 317.7 247.3 322.5 245.6C327.3 244 337.6 241 341.2 240.6C344.9 240.2 348.8 242.2 350 242.5"/>
<path d="M330 246.9 336.2 248.1 338.8 254"/>
<path d="M341.2 250 348.8 247.5 349.4 251.2"/>
<path d="M371.9 200 409.4 181.2 432.5 192.2"/>
<path d="M432.5 192.2C434.3 190.3 443.8 185 446.2 183.8C448.7 182.5 449.9 182.4 450.6 183.1C451.3 183.9 451.8 187.5 451.5 189.4C451.2 191.2 450.2 195.1 448.1 196.9C446 198.7 437.7 202.7 435.6 202.9C433.6 203 433.2 199.5 432.8 198.1C432.3 196.7 430.7 194.2 432.5 192.2Z"/>
<path d="M371.9 200 389.4 208.8 391.9 218.8 398.1 222.5 403.8 220.6 415 223.8"/>
<path d="M382.5 195.6 398.8 205 400 219.4"/>
<path d="M389.4 208.8 377.5 214"/>
<path d="M401.2 203.8 419.4 196.2 423.1 198.1 425.6 215.6 415 223.8 410.6 206.9 404.4 207.5 405 220"/>
<path d="M410.6 206.9 423.1 198.1"/>
<path d="M404.4 207.5 401.2 203.8"/>
<path d="M428.8 211.9 453 198.1"/>
<path d="M425.6 215.6C427.7 216.7 437.6 222.2 441.2 223.8C444.9 225.2 451.4 226.5 453 226.9"/>
<path d="M412.5 223.1C413 223.9 413.2 226.8 416.2 228.8C419.2 230.7 430.1 235.6 435 237.5C439.9 239.4 450.6 242.4 453 243.1"/>
<path d="M453 250 420 246.9 435.6 240"/>
<path d="M423.1 247.5 453 254"/>
<!-- 26_patch_m2 -->
<rect x="453" y="130" width="153" height="124" class="w"/>
<path d="M453 137.5 471.8 130"/>
<path d="M453 148.8 500.5 130"/>
<path d="M453 161.9 468 155.6 474.2 164.4 476.1 171.2 458.6 170.6 453 167.5"/>
<path d="M454.9 163.1 469.2 158.1"/>
<path d="M456.1 165.6 470.5 160.6"/>
<path d="M457.4 168.1 471.8 163.1"/>
<path d="M464.2 180.6C468.1 178.9 495.2 166.6 503 163.1C510.8 159.6 537.2 147.9 541.8 145.6C546.2 143.3 546.2 141 548 140C549.8 139 557 136.4 559.2 135.6C561.5 134.8 569.4 132.2 570.5 131.9"/>
<path d="M557.4 144.4 573.6 134.4 578 141.2 595.5 148.1 571.1 160 559.2 151.2Z"/>
<path d="M562.4 144.4 573.6 138.1 575.5 142.5 563.6 148.8"/>
<path d="M559.2 151.2 578 141.2"/>
<path d="M570.5 131.9 573.6 134.4"/>
<path d="M573.6 130 603 143.1 606 146.2"/>
<path d="M579.2 130 606 141.9"/>
<path d="M606 150C603.4 151 597.2 153.3 590.5 156.2C583.8 159.2 572.6 164.1 565.5 167.5C558.4 170.9 552.2 174.2 548 176.9C543.8 179.6 542 181.4 540.5 183.8C539 186.1 539.1 188.8 539.2 191.2C539.4 193.8 539.7 195.8 541.1 198.8C542.6 201.7 543.9 204.4 548 208.8C552.1 213.1 559.5 219.8 565.5 225C571.5 230.2 579.7 236.2 584.2 240C588.8 243.8 591.5 246.2 593 247.5"/>
<path d="M593 247.5 598 246.2 606 252.5"/>
<path d="M606 153.8C601.3 155.8 586.8 162.1 578 166.2C569.2 170.4 558.7 175.6 553 178.8C547.3 181.9 545.7 182.7 543.6 185C541.5 187.3 541 190.6 540.5 192.5C540 194.4 540.5 195.6 540.5 196.2"/>
<path d="M453 182.5 454.9 181.2 496.8 208.1 504.9 220 518 223.8 523 236.2 534.2 238.8 539.2 242.5 543 254"/>
<path d="M454.9 181.2 457.4 195.6 453 198.1"/>
<path d="M457.4 195.6 494.2 208.8"/>
<path d="M464.9 226.9 496.1 210"/>
<path d="M453 226.2C454.6 226.7 461.5 227.9 464.9 229.4C468.2 230.9 476 235.2 478 237.5C480 239.8 480.2 244.2 479.9 246.2C479.5 248.3 476.1 252.2 475.5 253.1"/>
<path d="M478 237.5 504.9 220"/>
<path d="M483 238.1 495.5 238.8 518 223.8"/>
<path d="M495.5 238.8 497.4 254"/>
<ellipse cx="508.9" cy="236.6" rx="2.2" ry="3.8" transform="rotate(15 508.9 236.6)"/>
<path d="M453 242.5 476.1 246.9"/>
<path d="M529.9 228.1 546.8 220 553 222.5 568 237.5"/>
<path d="M524.9 230.6 535.5 232.5"/>
<path d="M537.4 230 549.2 225 566.1 240.6 554.2 247.5Z"/>
<path d="M537.4 230 539.2 234.4 551.8 230 549.2 225"/>
<path d="M539.2 234.4 553.6 247.5"/>
<path d="M507.4 248.1 522.4 239.4"/>
<path d="M507.4 248.1 519.2 251.9 534.9 242.5"/>
<path d="M594.2 250.6 601.8 254"/>
<!-- 26_patch_m3 -->
<rect x="300" y="254" width="153" height="124" class="w"/>
<path d="M301.2 269 307.5 275.2 335 263.4 333.1 254"/>
<path d="M307.5 264 320.6 259"/>
<path d="M316.2 277.1 341.9 265.9 338.8 254"/>
<path d="M341.9 265.9 375 280.9 381.2 292.8"/>
<path d="M312.5 282.1C314.6 284 330.2 299 333.1 300.9C336 302.8 340.4 300.9 341.2 300.9"/>
<path d="M341.2 300.9 372.5 282.8"/>
<path d="M343.8 254 346.2 260.2 352.5 256.5"/>
<path d="M349.4 263.4 355 255.9"/>
<path d="M363.1 270.2 366.2 257.8 380 252.8"/>
<path d="M366.2 271.5 369.4 260.9 377.5 256.5"/>
<path d="M403.8 254C401.4 255.1 382.6 263.9 380 265.2C377.4 266.6 377.7 267.1 377.5 267.8C377.3 268.4 376.6 269.9 378.1 271.5C379.6 273.1 390.7 281.4 392.5 283.4C394.3 285.4 395.6 289.7 396.2 291.5C396.9 293.3 399.1 300.5 399.4 301.5"/>
<path d="M399.4 301.5 426.2 284.6 423.8 267.1 412.5 259 403.8 254"/>
<path d="M423.8 267.1 438.8 259 442.5 260.2 447.5 269.6 445 280.9 441.2 284.6 400 312.1 403.1 315.9 395 322.1"/>
<ellipse cx="437.5" cy="272.1" rx="2" ry="3.5" transform="rotate(15 437.5 272.1)"/>
<path d="M447.5 269.6 453 269"/>
<path d="M355 308.4 381.9 294 394.4 297.1 376.2 308Z"/>
<path d="M355 308.4 360 315.9 368.1 312.8 376.2 308"/>
<path d="M368.1 312.8 369.4 317.8"/>
<path d="M394.4 297.1 396.2 315.2 375.6 326.5"/>
<path d="M378.8 310.2 383.8 307.8 384.4 312.8 380 315.2Z"/>
<path d="M349.4 326.5 361.2 319 373.8 319 375 332.1 359.4 340.2 350 335.9Z"/>
<path d="M349.4 326.5 359.4 329 373.8 319"/>
<path d="M359.4 329 359.4 340.2"/>
<path d="M364.4 329.6 371.2 326.5 370.6 332.8 363.1 335.9Z"/>
<path d="M375 332.1 373.8 339 353.8 349"/>
<path d="M375.6 333.4C377.2 332.8 384.8 330.3 387.5 329C390.2 327.7 395.1 324.1 396.2 323.4"/>
<path d="M373.8 335.9 392.5 345.9 398.8 371.5 387.5 378"/>
<path d="M395 322.1 407.5 375.2 416.2 378"/>
<path d="M398.8 371.5 407.5 375.2"/>
<path d="M330 339.6 338.8 335.9 345.6 338.4 352.5 348.4 363.8 351.5 371.2 360.2 372.5 371.5 375 378"/>
<path d="M340 339.6 348.1 367.8 351.2 372.1 352.5 378"/>
<path d="M350 367.8 373.8 371.5"/>
<path d="M345.6 338.4 350 335.9"/>
<path d="M372.5 355.2 389.4 346.5"/>
<path d="M373.8 360.2 378.1 357.8 378.8 362.8 374.4 365.2Z"/>
<path d="M300 333.4 310 327.8 327.5 339 330.6 361.5 300 377.1"/>
<path d="M300 341.5 310.6 335.9 322.5 343.4 324.4 359 300 371.5"/>
<path d="M323.8 378 333.8 373.4 337.5 378"/>
<!-- 26_patch_m4 -->
<rect x="453" y="254" width="153" height="124" class="w"/>
<path d="M453 269.6 475.5 265.9 479.9 264 482.4 267.8 485.5 264.6 491.8 264 494.2 259 503 255.9 508 254"/>
<path d="M473.6 255.2 474.9 263.4"/>
<ellipse cx="481.8" cy="257.1" rx="1.6" ry="2.9"/>
<path d="M509.2 254 513 256.5 519.2 259.6 534.2 314 545.5 322.8 540.5 327.8 556.1 330.9"/>
<path d="M522.4 254 537.4 310.9"/>
<path d="M556.1 330.9 471.8 378"/>
<path d="M538 315.9 558 309.6 606 322.1"/>
<path d="M558 331.5 582.4 324.6 601.1 326.5 606 324"/>
<path d="M582.4 324.6 606 371.5"/>
<path d="M601.1 327.1 606 336.5"/>
<path d="M541.8 254 551.8 297.8 569.9 287.1"/>
<path d="M551.8 297.8 603 307.8 606 309.6"/>
<path d="M553 254 570.5 268.4 573 285.2 606 291.5"/>
<path d="M546.1 267.8 567.4 270.2"/>
<path d="M561.1 335.9 565.5 333.4 572.4 346.5 568 349Z"/>
<ellipse cx="584" cy="369" rx="4.5" ry="5.8" transform="rotate(10 584 369)"/>
<path d="M595.5 254C596.3 254.6 598.8 256.7 600.5 257.8C602.2 258.8 605.1 259.8 606 260.2"/>
<!-- 27_patch_n1 -->
<rect x="556" y="248" width="153" height="124" class="w"/>
<path d="M593.5 250.5C595.2 252 599.8 256.9 603.5 259.2C607.2 261.6 612.2 263.7 616 264.9C619.8 266 623.3 266.1 626 266.1C628.7 266.1 628.3 266.6 632.2 264.9C636.2 263.1 646.8 257.1 649.8 255.5"/>
<path d="M599.8 248C601.4 249.1 606.2 253.2 609.8 254.9C613.3 256.5 617.5 257.7 621 258C624.5 258.3 627.2 258 631 256.8C634.8 255.5 641.4 251.5 643.5 250.5"/>
<path d="M643.5 250.5 651 253.6 662.2 248"/>
<path d="M556 255.5 568.5 267.4 572.2 284.9 619.8 293.6"/>
<path d="M556 268.6 567.2 270.5"/>
<path d="M569.8 286.8 556 295.5"/>
<path d="M556 298.6C560.6 299.6 596.9 306.6 602.2 308C607.6 309.4 607.8 310.4 609.8 313C611.8 315.6 620.8 331.1 622.2 334.2C623.7 337.4 623.9 343.2 624.1 344.2"/>
<path d="M556 309.9C559.5 310.7 586.1 316.6 591 318C595.9 319.4 602.4 320.8 605.4 323.6C608.4 326.5 618.4 344.3 621 346.8C623.6 349.2 630.6 347.9 631.6 348"/>
<path d="M558.5 330.5 582.9 324.2 601 327.4 605.4 323.6"/>
<path d="M582.9 324.2 608.5 372"/>
<path d="M601 327.4 626 372"/>
<path d="M561 336.1 565.4 333.6 572.2 346.1 568.5 349.2Z"/>
<ellipse cx="584.5" cy="369" rx="4.8" ry="5.5"/>
<path d="M614.1 313.6 621 306.1 634.8 305.5 640.4 329.9 627.2 343.6"/>
<path d="M631.6 348 646 341.1 648.5 336.8 647.9 324.9 674.8 310.5 676.6 318.6 688.5 311.8 691.6 302.4 687.2 298.6"/>
<path d="M648.5 335.5 659.1 329.2 659.8 325.5 674.8 317.4"/>
<path d="M677.9 309.2 690.4 303.6"/>
<path d="M631.6 348 635.4 364.9 643.5 365.5 646 372"/>
<path d="M627.2 370.5 635.4 364.9"/>
<path d="M637.2 372 645.4 368"/>
<path d="M642.9 293.6 664.1 283.6 669.8 296.1 668.5 306.8 649.8 318Z"/>
<path d="M644.1 296.8 659.8 289.9 662.9 298.6 662.2 305.5 650.4 313.6"/>
<path d="M648.5 306.8 662.2 299.9"/>
<path d="M670.4 264.2 674.8 259.9 697.9 248"/>
<path d="M670.4 264.2 676.6 276.1 677.2 284.2 684.1 288.6 685.4 298 692.2 294.9 699.1 296.1 706 288 709 286.8"/>
<path d="M676.6 276.1 694.1 264.9 705.4 271.1 703.5 285.5 692.2 292.4"/>
<path d="M694.1 264.9 694.8 250.5"/>
<path d="M684.8 283 702.9 273"/>
<path d="M698.5 248 701 264.2 709 270.5"/>
<path d="M704.1 261.1 709 259.2"/>
<!-- 27_patch_n2 -->
<rect x="709" y="248" width="121" height="54" class="w"/>
<path d="M709 259.9 717.8 255.5 714 248"/>
<path d="M714.6 264.2 729 257.4 759.6 256.1"/>
<path d="M730.2 248 730.9 251.1"/>
<path d="M738.4 248 739 251.1"/>
<path d="M745.9 248 748.4 256.1"/>
<path d="M759.6 256.1 767.8 248"/>
<path d="M737.8 263.6 755.9 263.6 759.6 256.1"/>
<path d="M737.8 263.6 739 271.8 709 285.5"/>
<path d="M739 271.8 764 291.1 762.8 298.6 780.9 291.8 783.4 283.6 779 286.8 764 291.1"/>
<path d="M759.6 256.1 779.6 269.9 777.8 286.8"/>
<path d="M769 254.2 785.2 264.9 785.9 279.9"/>
<path d="M777.8 248 769 254.2 812.8 252.4 820.2 248"/>
<path d="M784 283.6 802.1 272.4 803.4 268.6 825.9 248"/>
<path d="M789 274.2 799 270.5 800.2 267.4 817.8 250.5"/>
<path d="M781.5 248 816.5 248.6"/>
<!-- 27_patch_n3 -->
<rect x="556" y="372" width="109" height="124" class="w"/>
<ellipse cx="584.5" cy="369" rx="4.8" ry="5.5"/>
<path d="M608.5 372 614.8 385.1 635.4 385.8 649.1 377 646 372"/>
<path d="M625.4 372 627.2 373.9 634.1 374.5 636 385.8"/>
<path d="M634.1 374.5 641 372"/>
<path d="M588.5 382.6 592.9 380.1 600.4 392 596.6 395.1Z"/>
<path d="M614.8 385.1 592.9 402.6 582.9 412 578.5 409.5 556 425.8"/>
<path d="M556 414.5 561 419.5"/>
<path d="M592.9 403.2 592.2 412 598.5 424.5 606 440.1 594.8 447 589.8 434.5 585.4 432.6 579.1 417.6 556 430.1"/>
<path d="M587.2 430.8 597.9 425.1"/>
<path d="M588.5 433.9 599.1 428.2"/>
<path d="M594.8 447 606 442 609.1 454.5 603.5 459.5 602.2 474.5 599.8 475.8"/>
<ellipse cx="603.2" cy="451" rx="2.5" ry="3.2"/>
<path d="M594.8 449.5 599.1 462.6"/>
<path d="M556 470.8 566 462 575.4 463.2 593.5 456.4"/>
<path d="M556 482 559.8 478.9 599.8 475.8 601.6 488.2 592.2 496"/>
<path d="M556 490.1 581 487 599.8 475.8"/>
<path d="M581 487 582.9 496"/>
<ellipse cx="589.5" cy="489.5" rx="2.8" ry="3.5"/>
<!-- 28_patch_q1 -->
<rect x="310" y="440" width="153" height="124" class="w"/>
<path d="M310 451.9 326.9 452.5 330 461.2 343.8 481.9 345 496.2"/>
<path d="M345 496.2C344 496.8 341 497.3 338.8 499.4C336.5 501.5 333.2 505.3 331.2 508.8C329.3 512.2 327.6 518.1 326.9 520"/>
<path d="M326.9 520 332.5 526.9 359.4 515"/>
<path d="M343.8 481.9 358.1 483.1"/>
<path d="M331.9 455.6 355.6 446.2 378.1 452.5 353.8 463.8 331.9 458.8"/>
<path d="M353.8 463.8 356.2 478.8"/>
<path d="M378.1 452.5 378.8 470 358.1 483.1"/>
<path d="M358.8 465 365.6 461.9 366.9 470.6 360 473.1Z"/>
<path d="M355.6 446.2 358.1 440"/>
<path d="M361.2 444.4 413.8 448.8 420 440"/>
<path d="M413.8 448.8 416.9 467.5 433.1 473.1 434.4 482.5"/>
<path d="M420 464.4 443.8 451.9 455 455"/>
<path d="M443.8 451.9 438.8 440"/>
<path d="M433.1 473.1 455 457.5"/>
<path d="M433.1 471.2 446.9 465.6 450.6 477.5"/>
<path d="M436.2 473.8 444.4 470 445 475.6 437.5 480Z"/>
<path d="M447.5 440 463 462.5"/>
<path d="M378.8 470 398.1 473.8 400 479.4 428.8 481.2"/>
<path d="M387.5 482.5 398.1 474.4"/>
<path d="M367.5 506.2 362.5 483.5 419.4 485.6"/>
<path d="M371.2 490 389.4 490.6 372.5 501.2Z"/>
<path d="M359.4 515C363.1 512.9 390.2 496.7 396.2 493.8C402.3 490.8 416.2 486.8 420 485.6C423.8 484.5 432.9 482.8 434.4 482.5"/>
<path d="M372.5 523.1C372.6 522.7 370.6 520.8 373.1 518.8C375.6 516.7 392.6 505.8 397.5 502.5C402.4 499.2 417.4 487.9 422.5 485.6C427.6 483.4 444.7 480.6 448.8 480C452.8 479.4 461.6 480 463 480"/>
<path d="M380 523.8C380.4 523.2 380.4 521.2 383.8 518.8C387.1 516.2 408.6 501.8 413.8 498.8C418.9 495.7 432.9 489.2 435 488.1"/>
<path d="M359.4 515 360.6 525.6 365.6 526.9 378.8 524.4 411.2 541.9 428.8 540.6 463 532.5"/>
<path d="M326.9 520 312.5 527.5 310 527.5"/>
<path d="M324.4 522.5 325 555.6"/>
<path d="M318.8 527.5C318.1 529.6 316.5 536.7 315 540C313.5 543.3 310.8 546.2 310 547.5"/>
<path d="M312.5 528.8 310 538.8"/>
<path d="M331.9 539.4 354.4 526.2 353.1 543.1 333.1 553.8Z"/>
<ellipse cx="340.4" cy="541.2" rx="2.9" ry="3.8"/>
<ellipse cx="348.5" cy="536.5" rx="2.2" ry="3.1"/>
<path d="M353.1 530 361.2 526.2"/>
<path d="M310 563.1 328.8 554.4 333.1 553.8"/>
<path d="M435.6 491.9 437.5 506.2 463 527.5"/>
<path d="M451.2 481.2 458.1 498.8 463 500.6"/>
<path d="M463 506.9 460 508.1 463 517.5"/>
<path d="M428.8 540.6 441.2 551.9 463 550"/>
<path d="M453.1 535.6 460 550"/>
<path d="M441.2 551.9 441.2 564"/>
<path d="M460 550 461.2 564"/>
<!-- 28_patch_q2 -->
<rect x="463" y="440" width="93" height="124" class="w"/>
<rect x="556" y="496" width="60" height="68" class="w"/>
<path d="M465.5 440 476.8 457.5 487.4 460 488 466.9 493 468.1"/>
<path d="M463 463.8 476.8 458.1"/>
<path d="M463 465.6 471.1 468.1 487.4 460.6"/>
<path d="M471.1 468.1 472.4 478.8"/>
<path d="M487.4 460.6C487.3 462.6 487.6 469.8 486.8 472.5C485.9 475.2 484.2 475.7 482.4 476.9C480.5 478 478.7 478.9 475.5 479.4C472.3 479.9 465.1 479.9 463 480"/>
<path d="M493 468.1 496.8 464.4 495.5 458.8 499.2 453.8 501.1 445 508 440"/>
<path d="M493 468.1 500.5 481.9 489.2 488.1 483 477.5"/>
<path d="M490.5 491.2 504.2 484.4 518.6 515.6 526.8 514.4"/>
<path d="M489.2 488.1 501.8 517.5 504.9 520 513.6 516.2"/>
<path d="M503 506.9 508.6 503.8 511.1 510.6 505.5 513.8Z"/>
<path d="M463 500.6 493.6 505"/>
<path d="M463 508.1 488 511.2 492.4 515 495.5 518.8 504.2 520"/>
<path d="M465.5 510.6 487.4 514.4 491.8 521.2 479.2 529.4 463 533.1"/>
<path d="M463 517.5 468 530"/>
<path d="M488.6 529.4 483.6 541.2 474.9 534.4 463 547.5"/>
<path d="M483.6 541.2 463 550.6"/>
<path d="M546.8 440C546.5 440.6 544.9 444.9 544.2 446.2C543.6 447.6 540.5 451.9 539.9 453.8C539.2 455.6 538.9 462.4 538 465C537.1 467.6 531.9 476.6 531.1 480C530.4 483.4 530.9 496.4 530.5 498.8C530.1 501.1 527.2 502.9 526.8 503.8C526.3 504.6 527 506.7 526.1 507.5C525.2 508.3 518.8 511.4 518 511.9"/>
<path d="M550.5 486.9 559.9 478.1 599.9 476.2 581.1 488.1Z"/>
<path d="M581.1 488.1 584.2 502.5 601.1 488.8 599.9 476.2"/>
<ellipse cx="589.5" cy="489.4" rx="2.8" ry="3.8" transform="rotate(10 589.5 489.4)"/>
<path d="M550.5 486.9 551.1 476.2 566.1 462.5 575.5 463.1 593 456.2"/>
<path d="M550.5 486.9 531.8 502.5 531.1 504.4 548 505"/>
<path d="M563 503.1 583.6 502.5"/>
<path d="M527.4 515 531.8 512.5 560.5 500 565.5 511.9 544.9 523.1 539.9 512.5"/>
<path d="M527.4 515 529.2 521.2 544.9 523.1"/>
<ellipse cx="548.6" cy="513.4" rx="2.9" ry="3.9" transform="rotate(10 548.6 513.4)"/>
<path d="M494.9 536.9 512.4 528.1 529.2 521.9 544.9 523.8 542.4 544.4 531.1 543.1 511.8 555 504.2 554.4 493 561.2Z"/>
<path d="M512.4 528.1 511.8 555"/>
<ellipse cx="525.1" cy="538.4" rx="2.8" ry="3.8" transform="rotate(10 525.1 538.4)"/>
<path d="M495.5 542.5 504.9 537.5 504.2 554.4"/>
<ellipse cx="499.6" cy="550.9" rx="2.8" ry="3.8" transform="rotate(10 499.6 550.9)"/>
<path d="M493 561.2 492.4 564"/>
<ellipse cx="478.2" cy="566.5" rx="2.5" ry="3.2" transform="rotate(10 478.2 566.5)"/>
<!-- 29_patch_r1 -->
<rect x="60" y="574" width="153" height="124" class="w"/>
<path d="M118.8 574 121.2 581.5 106.2 649 92.5 651.5 88.1 655.9 86.9 667.8 68.8 681.5 70.6 698"/>
<path d="M121.2 581.5 131.9 582.1 132.5 574"/>
<path d="M138.8 574 138.8 580.2 147.5 580.9"/>
<path d="M131.9 582.1 138.8 580.2 136.9 611.2"/>
<path d="M116.9 617.1 136.9 611.2 150 618Z"/>
<path d="M151.9 574 158.8 586.5 166.9 583.4 163.1 605.2"/>
<path d="M166.9 583.4 184.4 587.1 201.2 579"/>
<path d="M184.4 587.1 181.9 615.2"/>
<path d="M201.2 579 197.5 596.5 192.5 605.2 192.5 612.8 185 616.5"/>
<path d="M146.2 574C146.9 575.5 149.4 582.1 151.2 585.2C153.1 588.4 158.4 595.1 160 597.8C161.6 600.4 162.7 604.2 163.1 605.2"/>
<path d="M151.2 585.2 150 632.8"/>
<path d="M153.8 603.4 157.5 602.1 156.9 612.8 153.1 614Z"/>
<path d="M122.5 622.1 120 644 115 649 115 664.6"/>
<path d="M134.4 620.9 134.4 643.4"/>
<path d="M139.4 627.1 143.1 625.9 142.5 636.5 138.8 637.8Z"/>
<path d="M150 632.8 160 631.5 163.8 624"/>
<path d="M163.8 624C165 623.5 168 621.2 170 621.5C172 621.8 172.8 623.5 173.8 625.2C174.8 627 174.8 629.2 175 630.2"/>
<path d="M163.8 624 177.5 616.5 181.9 618.4"/>
<path d="M134.4 643.4C136.4 642.8 144.1 640 149.4 639C154.6 638 168.3 637.7 173.8 635.9C179.2 634 187.3 627.8 190 625.2C192.7 622.7 193.4 618.2 193.8 616.5C194.1 614.8 192.7 613.2 192.5 612.8"/>
<path d="M149.4 639 140.6 651.5"/>
<path d="M168.8 639 167.5 645.9 138.8 660.2 138.1 654 131.2 657.1 121.2 652.8 121.9 669.6"/>
<path d="M138.8 660.2 126.2 670.2 113.1 670.2 100.6 656.5 100 650.9"/>
<path d="M90 655.9 111.2 679.6 123.1 674 132.5 677.1 177.5 648.4 178.8 644 197.5 634 198.1 631.5 213 622.1"/>
<path d="M111.2 679.6 93.8 674.6 93.1 685.2 76.2 693.4 70.6 698"/>
<path d="M77.5 683.4 86.9 679 90.6 687.8 77.5 692.8Z"/>
<path d="M86.9 679 93.1 685.2"/>
<path d="M201.2 579.6 213 574"/>
<path d="M213 589 198.8 596.5 213 604.6"/>
<path d="M194.4 605.2C196 606.1 203.8 610.4 206.2 611.5C208.7 612.6 212.1 613.1 213 613.4"/>
<!-- 29_patch_r2 -->
<rect x="213" y="540" width="99" height="124" class="w"/>
<path d="M227.4 569.4 231.8 550.6 249.9 543.1 250.5 546.9 249.9 562.5 235.5 571.2Z"/>
<path d="M231.8 550.6 238 553.8 249.9 546.9"/>
<path d="M238 553.8 235.5 571.2"/>
<ellipse cx="243.4" cy="556.9" rx="2.5" ry="3.1" transform="rotate(10 243.4 556.9)"/>
<path d="M249.9 543.1 246.8 540"/>
<path d="M250.5 546.9 263.6 547.5 264.9 558.8 261.1 563.1 262.4 573.8 256.1 568.1 249.9 562.5"/>
<path d="M224.9 542.5 227.4 551.9"/>
<path d="M213 546.2 221.1 549.4 213 553.1"/>
<path d="M207.5 565 216.2 560 217.5 563.8 222.5 561.2 222.5 567.5 210 572.5Z"/>
<path d="M210 576.2 221.2 573.8 221.2 580"/>
<path d="M224.2 580.6 238.6 582.5 262.4 573.8"/>
<path d="M238.6 582.5C234.6 585.6 217.9 597.4 214.2 601.2C210.6 605.1 215.5 604.9 216.8 605.6C218 606.4 220.9 605.6 221.8 605.6"/>
<path d="M221.8 605.6C230.2 600.7 284.5 569.8 294.2 563.8C304 557.7 303.5 556.5 305.5 553.8C307.5 551 311 541.6 311.8 540"/>
<path d="M213 613.1C213.9 613 210.7 617.1 220.5 611.9C230.3 606.6 286.4 574.5 296.8 568.1C307.1 561.8 306.9 560.5 309.2 557.5C311.6 554.5 315.8 544.5 316.8 542.5C317.7 540.5 317.3 540.3 317.4 540"/>
<path d="M213 622.5 325.5 556.2 324.2 540"/>
<path d="M325.5 556.2 334.2 553.1 353.6 543.1 354.2 540"/>
<path d="M331.8 540 333.6 553.1"/>
<ellipse cx="340.5" cy="541.5" rx="2.9" ry="3.5"/>
<!-- 30_part6 -->
<g class="o2">
<path d="M749.7 525.1 755.9 523 763.5 527.2 771.8 526.8 791.1 538.5 794.4 538.1 799.5 542.3 799.5 546.9 805.3 546.4 805.7 553.1 801.5 553.1 801.5 558.6 798.6 563.2 786.1 568.6 784.8 571.5 779.4 572 772.7 573.6 762.2 569.5 761 566.1 755.9 566.1 744.6 559 744.6 545.6 745.9 544.4 745.9 538.9 749.2 536Z"/>
</g>
<path d="M749.7 525.1 750.9 526.8 758.5 531 755.9 532.6 755.9 537.7 759.3 539.7 765.1 541.8"/>
<path d="M750.9 526.8 750.9 536.8 747.6 539.3"/>
<path d="M756.8 533.5 767.7 538.9"/>
<path d="M752.6 540.2 752.6 551"/>
<path d="M754.3 539.3 757.6 541 758.5 553.6"/>
<path d="M745.9 538.9 751.8 541.8 752.6 540.2"/>
<path d="M746.3 546.9 749.2 548.5 750.5 553.6 753.4 555.2 753.8 563.6"/>
<path d="M758.5 553.6 762.2 554.4 770.2 558.6"/>
<path d="M761 548.5 771 553.6"/>
<path d="M761 555.2 761 566.1"/>
<path d="M771.8 553.6C772.3 553.2 772.5 552.3 775.2 551C777.9 549.8 789.1 544.3 792.3 543.9C795.6 543.5 798.5 547.6 799.5 548.1"/>
<path d="M771.8 553.6C771.6 554.6 770.8 556.2 770.6 558.6C770.4 560.9 770.4 562.9 771 565.3C771.6 567.6 773 569.3 773.5 570.3"/>
<path d="M799.5 550.2C796.8 551.3 786.9 555.5 783.6 556.9C780.2 558.3 780.3 557.7 779.4 558.6C778.5 559.4 778.3 560 778.1 561.9C778 563.9 778.5 568.9 778.5 570.3"/>
<path d="M787.7 553.6 796.1 559.4"/>
<path d="M779 565.3 784.4 568.6"/>
<path d="M779.4 567.8 783.6 570.3"/>
<!-- 31_part7 -->
<!-- 32_part8 -->
<!-- 33_lens -->
<g class="o">
<path d="M611.2 847.5C609.8 843.5 605.5 833.5 603.8 827.5C602 821.5 601.5 822.5 602.5 817.5C603.5 812.5 604.2 809.5 608.8 802.5C613.2 795.5 617.2 791 625 782.5C632.8 774 638 768.5 647.5 760C657 751.5 662.5 747.5 672.5 740C682.5 732.5 688 729 697.5 722.5C707 716 710.5 713.2 720 707.5C729.5 701.8 735 699.2 745 693.8C755 688.2 760 685.2 770 680C780 674.8 785 672.2 795 667.5C805 662.8 811 659.5 820 656.2C829 653 834 651.8 840 651.2C846 650.8 847.5 652 850 653.8C852.5 655.5 853 654.8 852.5 660C852 665.2 850 671.5 847.5 680C845 688.5 844 692.5 840 702.5C836 712.5 831.2 721.5 827.5 730C823.8 738.5 824.8 739.2 821.2 745C817.8 750.8 816.2 753.8 810 758.8C803.8 763.8 799.5 766.8 790 770C780.5 773.2 771.5 772.5 762.5 775C753.5 777.5 753.5 778 745 782.5C736.5 787 730.5 790.5 720 797.5C709.5 804.5 700 811 692.5 817.5C685 824 684.5 827.5 682.5 830"/>
<path d="M682.5 830 645 855 635 855 611.2 847.5"/>
</g>
<path d="M847.5 656.2C846 655.9 845.5 653.9 840 654.5C834.5 655.1 829 656.2 820 659.5C811 662.8 805 666 795 670.8C785 675.5 780 678 770 683.2C760 688.5 755 691.5 745 697C735 702.5 729.5 705 720 710.8C710.5 716.5 706.8 719.1 697.5 725.8C688.2 732.4 683.2 736.1 673.8 743.8C664.2 751.4 659.2 755.2 650 763.8C640.8 772.2 635 778 627.5 786.2C620 794.5 616.8 798.5 612.5 805C608.2 811.5 607.2 814 606.2 818.8C605.2 823.5 606 823 607.5 828.8C609 834.5 612.5 843.8 613.8 847.5"/>
<!-- 34_part9 -->
<g class="o">
<path d="M926.9 656.2C927.6 655.5 929.1 653.2 931.2 651.9C933.4 650.6 937.6 648.7 940 648.5C942.4 648.3 944.2 649 945.6 650.6C947.1 652.2 947.8 656.4 948.8 658.1C949.7 659.9 950.2 660.8 951.2 661.2C952.3 661.7 954.4 660.7 955 660.6"/>
<path d="M955 660.6 971.2 651.9"/>
<path d="M971.2 651.9C971.7 651.4 973.5 650.6 973.8 648.8C974 646.9 973.5 642.7 972.5 640.6C971.5 638.5 968.3 637.7 967.5 636.2C966.7 634.8 966.2 633.3 967.5 631.9C968.8 630.4 972.1 629.1 975 627.5C977.9 625.9 982.5 623 985 622.5C987.5 622 988.6 622.3 990 624.4C991.4 626.5 992.5 631.1 993.1 635C993.8 638.9 993 644.3 993.8 647.5C994.5 650.7 996.9 653.2 997.5 654.4"/>
<path d="M997.5 654.4 1046.2 696.2 1048.1 700 1046.9 706.2 1047.5 716.2 1038.1 722.5 1035.6 721.2 1033.8 711.2 1036.9 708.8 1035.6 703.1 1033.1 703.1 1015 715.6 1013.8 720 1012.6 733.4 1007.6 740 1001 738.4 999.4 730 1002.5 726.9 945 676.9"/>
<path d="M945 676.9C942.2 676.2 934.6 675.6 931.2 673.8C927.9 671.9 929 671 928.1 667.5C927.2 664 927.1 658.5 926.9 656.2"/>
</g>
<path d="M949.4 668.1 979.4 651.9"/>
<path d="M941.9 664.4C941.8 662.9 943.8 662.3 944.4 662.5C945 662.7 945.8 664.5 946.2 665.6C946.7 666.8 945.2 669 947.5 671.2C949.8 673.5 961.1 680.7 963.1 682.5C965.1 684.3 963 684.8 962.5 685C962 685.2 961.7 685.9 959.4 684.4C957 682.9 947.3 676.4 945 673.8C942.7 671.1 942 665.9 941.9 664.4Z"/>
<path d="M978.1 643.1C977.9 641.6 980 641.2 980.6 641.2C981.3 641.3 982.5 642.6 983.1 643.8C983.7 644.9 982.8 647.8 985 650C987.2 652.2 997.5 658.8 999.4 660.6C1001.3 662.5 999.8 663.3 999.4 663.8C999 664.2 998.5 665.2 996.2 663.8C994 662.2 984.9 655.2 982.5 652.5C980.1 649.8 978.4 644.6 978.1 643.1Z"/>
<path d="M962.5 673.1C962.6 672.5 963.1 671.2 965 670C966.9 668.8 979.1 662.1 981.2 661.2C983.4 660.4 982.2 658.8 986.2 661.9C990.3 664.9 1018.2 688.4 1021.9 691.9C1025.5 695.3 1024.1 694.8 1022.5 696.2C1020.9 697.8 1008.4 705.8 1006.2 706.9C1004.1 708 1002.1 707.6 1001.2 707.5C1000.4 707.4 1001.2 708.8 997.5 705.6C993.8 702.5 967.2 679.5 963.8 676.2C960.2 673 962.4 673.8 962.5 673.1Z"/>
<ellipse cx="932.9" cy="660.6" rx="1.2" ry="2" transform="rotate(10 932.9 660.6)"/>
<ellipse cx="985.4" cy="629.4" rx="1.2" ry="2" transform="rotate(10 985.4 629.4)"/>
<ellipse cx="1042.2" cy="712.8" rx="1.6" ry="2.5" transform="rotate(15 1042.2 712.8)"/>
<ellipse cx="1006.6" cy="734.4" rx="1.6" ry="2.4" transform="rotate(15 1006.6 734.4)"/>
<ellipse cx="1041.5" cy="701.9" rx="1.1" ry="2.5" transform="rotate(-15 1041.5 701.9)"/>
<ellipse cx="1008.8" cy="722.5" rx="1.1" ry="2.5" transform="rotate(-15 1008.8 722.5)"/>
<path d="M1004.4 728.1 1013.1 722.5"/>
<!-- 35_parts45 -->
<g class="o2">
<path d="M247.5 701.6 268.1 696 272.5 697.9 273.8 720.4 270 727.9 247.5 741"/>
<path d="M215.6 762.2 184.4 774.8 180 772.2 175 744.1 247.5 701.6"/>
<path d="M175 744.1 167.5 739.8 165 733.5 160.6 732.9 160.6 728.5 164.4 726.6 161.9 714.8 163.8 712.2 167.5 711 168.1 706 176.2 701.6 184.4 705.4 187.5 699.1 203.1 689.8 211.9 691 212.5 687.2 220 686 247.5 701.6"/>
</g>
<path d="M179.4 744.8 183.8 772.2"/>
<path d="M179.4 744.8 222.5 721"/>
<path d="M230.6 716 269.4 699.1"/>
<path d="M256.9 711.6 269.4 706.6 270 722.2 258.8 727.9Z"/>
<path d="M262.5 711 263.1 719.8 258.8 721.6"/>
<path d="M213.8 691 240 706"/>
<path d="M221.2 688.5 246.9 702.5"/>
<path d="M203.1 689.8 235 707.2"/>
<path d="M184.4 705.4 188.1 700.4 197.5 703.5 195 708.5 177.5 710.4"/>
<path d="M177.5 710.4 199.4 725.4"/>
<path d="M167.5 711 177.5 709.8 212.5 717.2"/>
<path d="M168.8 717.2 186.2 732.2"/>
<path d="M170.6 721.6 185 732.9"/>
<path d="M162.5 728.5 170.6 731.6 171.2 737.2 167.5 739.1"/>
<ellipse cx="228.5" cy="740" rx="18.8" ry="23.5" transform="rotate(28 228.5 740)" class="wfs"/>
<g class="o2">
<ellipse cx="231.2" cy="740.4" rx="15.2" ry="20.6" transform="rotate(28 231.2 740.4)"/>
</g>
<ellipse cx="232.8" cy="742.9" rx="11.6" ry="14.5" transform="rotate(28 232.8 742.9)"/>
<g class="o2">
<path d="M267.1 744.2 280.9 738.8 287.2 743.4 291.8 742.6 299.4 746.7 299.8 749.7 303.1 748.8 309 753.8 308.6 768.9 289.3 783.1 283.9 779.8 282.6 769.3 266.3 755.5 270.5 754.3 270.9 746.3Z"/>
</g>
<path d="M270.9 746.3 284.7 755.9 286.4 758 291.8 760.5 307.3 755.1"/>
<path d="M286.4 758 284.7 768.1 282.6 769.3"/>
<path d="M291.8 760.5 289.7 781.9"/>
<path d="M294.3 763.5 305.2 758.9 305.2 766 294.3 775.6Z"/>
<path d="M280.5 748 286.4 745.5 291.8 750.5 291 753.4 287.2 755.1Z"/>
<path d="M286.4 745.5 291 744.6 298.5 747.6 291.8 750.5"/>
<path d="M270.5 754.3 283.9 763.5"/>
<path d="M271.7 750.1 284.3 758.5"/>
<g class="o2 lt">
<path d="M540 860 511.2 841.2 510.6 836.9 513.1 833.1 518.1 830.6 522.5 833.1 547.5 847.5"/>
<path d="M546.2 848.1C547.4 847.4 549.4 845.4 551.9 844.4C554.4 843.4 556.1 842.9 558.8 843.1C561.4 843.4 563.1 844 565 845.6C566.9 847.2 567.5 850.1 568.1 851.2"/>
<path d="M546.2 848.1C545.4 849.5 543.2 851.9 541.9 855C540.5 858.1 539.8 860.5 539.4 863.8C539 867 539.1 868.8 540 871.2C540.9 873.8 541.8 874.9 543.8 876.2C545.8 877.6 547.8 878 550 878.1C552.2 878.2 554 877.1 555 876.9"/>
<path d="M546.2 863.8 553.8 851.9 560 850.6 570.6 857.5 572.5 864.4 565 875 556.9 878.1 555 875.6 546.9 871.2Z"/>
</g>
<g class="lt">
<path d="M518.1 833.8C517.7 834.4 515.9 836 515.6 837.5C515.3 839 516.1 841.7 516.2 842.5"/>
<path d="M523.8 836.9C523.3 837.5 521.6 839.1 521.2 840.6C520.9 842.2 521.8 845.3 521.9 846.2"/>
<path d="M529.4 840C529 840.6 527.2 842.1 526.9 843.8C526.6 845.4 527.4 849 527.5 850"/>
<path d="M553.8 851.9 561.9 858.1 570.6 857.5"/>
<path d="M561.9 858.1 555 868.8 546.2 863.8"/>
<path d="M555 868.8 556.9 878.1"/>
</g>
<!-- 36_part10 -->
<g class="o2">
<path d="M316.8 615 322.4 611.9 325.5 613.8 338.6 609.4 344.2 615 351.8 619.4 352.4 623.1 348.6 625 350.5 629.4 354.9 629.4 358.6 636.2 355.5 647.5 343.6 653.1 338 648.8 336.1 644.4 330.5 651.9 324.2 653.8 320.5 650.6 319.9 638.8 322.4 627.5 315.5 623.1Z"/>
</g>
<path d="M334.9 624.4 345.5 620 340.5 629.4Z"/>
<path d="M317.4 616.9 323 619.4"/>
<path d="M343 636.2 354.9 629.4"/>
<path d="M343 636.2 348 643.8 358.6 636.9"/>
<path d="M348 643.8 343.6 653.1"/>
<!-- 37_p7a -->
<rect x="866" y="272" width="204" height="163" class="w"/>
<g class="o">
<path d="M876.8 334.2 891 325.8 900.2 328.3 901.8 324.2 947.7 296.7 950.2 289.2 961.8 280.8 967.7 285 981.8 277.5 982.7 284.2 986 287.5 1008.5 280.8"/>
<path d="M1008.5 280.8C1010.4 282.2 1018.3 288.7 1022.7 290.8C1027 292.9 1036.3 295.1 1041 296.7C1045.7 298.2 1053.8 300.8 1057.7 302.5C1061.5 304.2 1068.4 308.3 1070 309.2"/>
<path d="M876.8 334.2 881 347.5 876.8 352.5"/>
<path d="M876.8 352.5C877.8 355.7 882.9 372.1 884.3 376.7C885.8 381.2 887.4 383.1 887.7 386.7C887.9 390.2 886.7 398.9 886 403.3C885.3 407.8 883 415.7 882.7 420C882.3 424.3 883.4 433.3 883.5 435.3"/>
</g>
<path d="M881.8 347 891 343.3 985.2 290.8"/>
<path d="M878.5 338.3 890.2 336.7"/>
<path d="M891 325.8 891 343.3"/>
<path d="M891 325.8 895.2 336.7"/>
<path d="M900.2 328.3 909.3 333.3"/>
<path d="M901.8 324.2 910.2 332.5"/>
<path d="M908.5 323.3 913.5 330.8"/>
<path d="M913.5 320.8 916 327.5"/>
<ellipse cx="921.8" cy="320.8" rx="2.5" ry="2"/>
<ellipse cx="946.3" cy="307" rx="2.5" ry="2"/>
<path d="M952.7 291.7 959.3 302.5"/>
<path d="M961.8 280.8 972.7 295.8"/>
<path d="M963.5 283.3 972.7 287.5 981 283.3"/>
<path d="M967.7 285 974.3 291.7"/>
<path d="M879.3 353.3C880.3 356.4 885.4 372.2 886.8 376.7C888.3 381.1 889.9 383.1 890.2 386.7C890.4 390.2 889.2 398.9 888.5 403.3C887.8 407.8 885.5 415.7 885.2 420C884.8 424.3 885.9 433.3 886 435.3"/>
<path d="M881.8 350C883.3 351.8 890.1 359.6 892.7 363.3C895.2 367.1 899.4 374.3 901 378.3C902.6 382.3 904 389.3 904.3 393.3C904.7 397.3 903.1 404.3 903.5 408.3C903.9 412.3 906.2 419.7 907.7 423.3C909.1 426.9 913.4 433.7 914.3 435.3"/>
<path d="M892.7 382.5 900.2 380.8 901 391.7"/>
<path d="M893.5 397.5 901 395.8 900.2 403.3 898.5 401.7"/>
<path d="M891 411.7 901.8 407.5 901 413.3"/>
<path d="M889.3 420.8 900.2 416.7"/>
<path d="M893.5 426.7 901.8 422.5 909.3 435.3"/>
<path d="M968.5 435.3 966 428.3 938.5 389.2 1051.8 327.5 1070 348.3"/>
<path d="M1025.2 342.5 1024.3 347.5 1046.8 382.5"/>
<path d="M1042.7 334.2 1070 373.3"/>
<path d="M964.3 427.5 1059.3 375.8 1063.5 382.5 1070 383.3"/>
<ellipse cx="986.3" cy="422" rx="4" ry="1.7" transform="rotate(-18 986.3 422)"/>
<ellipse cx="1004.3" cy="418" rx="4" ry="1.7" transform="rotate(-18 1004.3 418)"/>
<ellipse cx="1026" cy="405.8" rx="4" ry="1.7" transform="rotate(-18 1026 405.8)"/>
<ellipse cx="1043" cy="389.7" rx="4" ry="1.7" transform="rotate(-18 1043 389.7)"/>
<ellipse cx="1057.7" cy="388.7" rx="4" ry="1.7" transform="rotate(-18 1057.7 388.7)"/>
<path d="M1002.7 412.5 1015.2 406.7 1020.2 415"/>
<path d="M1006.8 413.3 1016.8 419.2"/>
<path d="M1017.7 410 1024.3 413.3"/>
<path d="M966 435.3 1070 385"/>
<path d="M989.3 435.3 1070 393.3"/>
<path d="M916.8 382.5 917.7 396.7 921 411.7 932.7 435.3"/>
<path d="M916.8 382.5 949.3 435.3"/>
<path d="M921.8 396.7 933.5 411.7 928.5 415 932.7 418.3 938.5 415.8 946 435.3"/>
<path d="M921.8 396.7 921 408.3 931.8 430"/>
<path d="M1030.2 296.7 1070 335"/>
<path d="M1044.3 305.8 1070 318.3"/>
<path d="M1016 435.3 1070 407.5"/>
<!-- 37_p7b -->
<rect x="1070" y="272" width="154" height="163" class="w"/>
<g class="o">
<path d="M1053.3 302.5C1056.1 303.9 1064.4 307.5 1070 310.8C1075.6 314.2 1081.9 318.2 1086.7 322.5C1091.4 326.8 1094.7 331.5 1098.3 336.7C1101.9 341.8 1104.7 346.7 1108.3 353.3C1111.9 360 1116.4 368.9 1120 376.7C1123.6 384.4 1126.9 392.8 1130 400C1133.1 407.2 1136 414.1 1138.3 420C1140.7 425.9 1143.2 432.8 1144.2 435.3"/>
</g>
<path d="M1044.2 306.3C1047.1 307.8 1056.2 312.2 1061.7 315C1067.1 317.8 1071.9 320 1076.7 323.3C1081.4 326.7 1086.2 331 1090 335C1093.8 339 1097.6 345.4 1099.2 347.5"/>
<path d="M1053.3 318.3C1055.3 319.9 1064.8 326.4 1068.3 330C1071.9 333.6 1077.1 340.6 1080 345C1082.9 349.4 1087.6 358.7 1090 363.3C1092.4 368 1095.7 374.7 1098.3 380C1101 385.3 1106.7 396.7 1110 403.3C1113.3 410 1121.2 425.7 1123.3 430C1125.4 434.3 1125.5 434.6 1125.8 435.3"/>
<path d="M1103.3 355 1111.7 371.7"/>
<path d="M1117.5 381.7 1126.7 398.3"/>
<path d="M1129.2 405.8 1140 435.3"/>
<path d="M1089.2 355.8 1098.3 350"/>
<path d="M1090.8 358.7 1100 353"/>
<path d="M1089.2 355.8 1090.8 358.7"/>
<path d="M1104.2 383.3 1113.3 376.7"/>
<path d="M1105.8 385.8 1115 379.2"/>
<path d="M1104.2 383.3 1105.8 385.8"/>
<path d="M1115.8 406.7 1125 400"/>
<path d="M1117.5 409.2 1126.7 402.5"/>
<path d="M1115.8 406.7 1117.5 409.2"/>
<path d="M1070 353.3 1088.3 379.2 1066.7 383.3"/>
<path d="M1070 378.3 1066.7 383.3"/>
<path d="M1098.3 380 1070 394.2"/>
<path d="M1070 407.5 1092.5 396.7 1111.7 435.3"/>
<path d="M1085 401.7 1092.5 416.7 1101.7 418.3"/>
<path d="M1086.7 401.7 1093.3 415 1100.8 416.7"/>
<path d="M1070 415 1075 420 1083.3 430 1084.2 435.3"/>
<!-- 37_p7c -->
<rect x="866" y="435" width="204" height="165" class="w"/>
<g class="o">
<path d="M884.3 435 889.3 445 907.7 471.7 924.3 495 929.3 499.2 942.7 513.3 945.2 520 966 543.3 992.7 571.7 1016 600.3"/>
<path d="M866 486.7 882.7 513.3 907.7 555 931 591.7 934.3 600.3"/>
<path d="M866 570.8 882.7 590 891 600.3"/>
</g>
<path d="M888.5 435 893.5 444.2 911 470 927.7 493.3 932.7 496.7 946 510.8 948.5 517.5 969.3 541.7 996 570 1021 600.3"/>
<path d="M899.3 435 916 440 914.3 446.7"/>
<path d="M910.2 449.2 917.7 446.7 920.2 454.2 912.7 456.7Z"/>
<path d="M911 463.3 923.5 457.5 928.5 465 918.5 472.5"/>
<path d="M931.8 469.2 936.8 482.5"/>
<path d="M933.5 495.8 941.8 490.8 945.2 499.2 952.7 502.5 951.8 493.3 956.8 506.7 947.7 513"/>
<path d="M916.8 435C919.1 439 935.3 467.8 939.3 475C943.3 482.2 953.3 501 956.8 506.7C960.3 512.3 972.6 529.2 974.3 531.7"/>
<path d="M931 435C933.8 439.5 953.8 471.7 959.3 480C964.8 488.3 981 511.3 986 518.3C991 525.3 1005.7 545.5 1009.3 550C1013 554.5 1021.3 562 1022.7 563.3"/>
<path d="M969.3 455.8C970.7 459.2 979.3 483.4 982.7 490C986 496.6 998.8 515.5 1002.7 521.7C1006.5 527.8 1017.7 547.3 1021 551.7C1024.3 556 1034.5 563.7 1036 565"/>
<path d="M969.3 535.8 976.8 533.3 984.3 536.7"/>
<path d="M974.3 541.7 981 537.5"/>
<path d="M941.8 435 944.3 440.8 954.3 437.5"/>
<path d="M949.3 445 956 442.5 962.7 451.7 956.8 456.7"/>
<path d="M959.3 458.3 969.3 455 982.7 488.3 972.7 485 961.8 465.8 959.3 461.7Z"/>
<path d="M962.7 465 971 462.5"/>
<path d="M967.7 435 972.7 443.3 987.7 435"/>
<path d="M969.3 452.5 1004.3 435"/>
<path d="M1016 435 987.7 455.8 1027.7 531.7 1054.3 513.3 1056 510 1070 502.5"/>
<path d="M1070 506.7 1056 513.3 1028.5 531.7"/>
<path d="M998.5 511.7 1011 535 1005.2 537.5 996 520Z"/>
<path d="M1008.5 544.2 1016 540 1020.2 548.3 1012.7 552.5Z"/>
<path d="M1012.7 552.5 1021 553.3 1022.7 563.3 1036 566.7 1041 571.7 1046 585"/>
<path d="M1070 543 1054.3 552.5"/>
<path d="M1054.3 552.5C1054.1 552.9 1053.2 553.8 1053.3 554.7C1053.5 555.5 1053.8 556.4 1055 556.7C1056.2 556.9 1058.5 556 1059.3 555.8"/>
<path d="M1059.3 555.8 1070 550"/>
<path d="M1039.3 568.3C1041.3 569 1050.2 571.1 1054.3 573.3C1058.4 575.6 1067.9 583.4 1070 585"/>
<path d="M1047.7 581.7C1049.2 582.1 1056.4 583.4 1059.3 585C1062.3 586.6 1068.6 592.2 1070 593.3"/>
<path d="M1041 571.7C1041.4 573.4 1043 582.1 1044.3 585C1045.7 587.9 1050.1 592.2 1051 593.3"/>
<path d="M1006 580 1016 579.2 1021.8 586.7 1018.5 590.8"/>
<path d="M1021 595 1026 597.5 1031 595.8"/>
<path d="M871 525 884.3 519.2"/>
<path d="M871.8 526.7 885.2 520.8"/>
<path d="M888.5 548.3 900.2 544.2"/>
<path d="M889.3 550 901 545.8"/>
<path d="M906.8 575.8 918.5 573.3"/>
<path d="M907.7 577.5 919.3 575"/>
<path d="M866 498.3 870.2 496.7"/>
<path d="M866 550 873.5 544.2"/>
<path d="M866 505 887.7 541.7 912.7 585 921 600.3"/>
<path d="M866 521.7 882.7 550 907.7 593.3 911 600.3"/>
<ellipse cx="885.2" cy="563.7" rx="2.3" ry="2.5"/>
<path d="M871.8 533.3 875.2 532.5 876 536.7 872.7 537.5Z"/>
<path d="M879.3 545 882.7 544.2 883.5 548.3 880.2 549.2Z"/>
<path d="M901.8 590.8 906 586.7 912.7 591.7 908.5 595.8Z"/>
<!-- 37_p7d -->
<rect x="1070" y="435" width="154" height="165" class="w"/>
<g class="o">
<path d="M1143.3 435C1144.4 438.3 1149.2 452.2 1151.7 460C1154.1 467.8 1158.6 483.3 1161.7 493.3C1164.8 503.3 1171.4 525 1175 535C1178.6 545 1184.9 560.7 1188.3 568.3C1191.8 576 1199.2 589.3 1200.8 592.5"/>
<path d="M1200.8 592.5 1191.7 595.8 1195 600.3"/>
</g>
<path d="M1139.2 435 1153.3 476.7 1157.5 490"/>
<path d="M1126.7 435 1154.2 496.7"/>
<path d="M1112.5 435 1130 473.3"/>
<path d="M1156.7 485C1156.4 487.2 1155.8 493.6 1155 498.3C1154.2 503.1 1152.1 508.1 1151.7 513.3C1151.2 518.6 1151.4 524.7 1152.5 530C1153.6 535.3 1155.7 539.4 1158.3 545C1161 550.6 1165 556.4 1168.3 563.3C1171.7 570.3 1174.2 581.7 1178.3 586.7C1182.5 591.7 1190.8 592.2 1193.3 593.3"/>
<path d="M1162.5 500C1161.8 502.5 1159.2 510.3 1158.3 515C1157.5 519.7 1156.9 523.6 1157.5 528.3C1158.1 533.1 1159.6 538.1 1161.7 543.3C1163.8 548.6 1167.2 554.4 1170 560C1172.8 565.6 1175 572.6 1178.3 576.7C1181.7 580.7 1188.1 582.9 1190 584.2"/>
<path d="M1084.2 435 1081.7 438.3 1087.5 445 1091.7 445.8 1105 473.3 1113.3 478.3 1130.8 474.2"/>
<path d="M1115 451.7 1117.5 446.7 1130.8 474.2"/>
<path d="M1115 451.7 1128.3 474.2"/>
<path d="M1130.8 474.2 1070 508.3"/>
<path d="M1128.3 474.7 1070 503"/>
<path d="M1070 543C1074.2 540.6 1128.2 509.8 1132.5 507.5C1136.8 505.2 1134.9 508.8 1135 509.2C1135.1 509.6 1138.5 510.6 1134.2 513.3C1129.8 516.1 1074.3 547.6 1070 550"/>
<path d="M1072.5 577 1147.5 535"/>
<path d="M1148.3 537C1145 540.6 1136.4 552.3 1128.3 558.3C1120.3 564.4 1109.3 569.7 1100 573.3C1090.7 576.9 1077.1 578.9 1072.5 580"/>
<path d="M1106.7 600.3 1163.3 569.2"/>
<path d="M1164.2 571.7C1161.2 574.4 1152.9 583.6 1146.7 588.3C1140.4 593.1 1130 598.3 1126.7 600.3"/>
<path d="M1070 588.3 1075 595"/>
<!-- 37_p7e -->
<path d="M998 600 1042.1 629.9 1060.7 651.9 1076.9 661.2 1081.5 669.3 1095.5 678.6 1112.9 669.3 1114 662.4 1126.8 655.4 1132.6 660 1143 649.6 1143 645 1159.3 634.5 1163.9 636.8 1175.5 628.7 1174.3 624.1 1185.9 618.3 1189.4 624.1 1194.1 618.3 1191.7 614.8 1202.2 610.2 1196.4 600 1202.2 600 1195.2 600Z" class="wf"/>
<g class="o">
<path d="M998 580 1042.1 629.9 1060.7 651.9 1076.9 661.2 1081.5 669.3 1095.5 678.6 1112.9 669.3 1114 662.4 1126.8 655.4 1132.6 660 1143 649.6 1143 645 1159.3 634.5 1163.9 636.8 1175.5 628.7 1174.3 624.1 1185.9 618.3 1189.4 624.1 1194.1 618.3 1191.7 614.8 1202.2 610.2 1196.4 595.1 1202.2 592.8 1195.2 580"/>
</g>
<path d="M1005 580 1044.4 626.4 1063 648.4 1079.2 657.7 1083.9 664.7 1097.8 674 1112.9 665.8"/>
<path d="M1021.2 593.9 1025.8 598.6 1031.7 596.2 1034 602 1029.3 604.4"/>
<path d="M1011.9 580 1021.2 590.4"/>
<path d="M1036.3 617.1 1047.9 616 1069.9 647.3 1063 649.6"/>
<path d="M1069.9 647.3 1088.5 660 1094.3 657.7 1102.4 658.9 1114 662.4"/>
<path d="M1028.2 580C1030.3 582.6 1044.9 600.4 1049.1 605.5C1053.2 610.6 1065.5 626.2 1069.9 631C1074.3 635.9 1088.7 651.2 1093.1 654.2C1097.5 657.3 1111.9 660.9 1114 661.7"/>
<path d="M1045.6 580C1047.6 582.2 1056.5 591.6 1060.7 596.2C1064.8 600.9 1072.7 609.8 1076.9 614.8C1081.1 619.8 1090 631.3 1092 633.8"/>
<path d="M1050.2 588.1C1052.4 588.9 1062 590.7 1066.5 593.9C1070.9 597.2 1079.4 606.9 1083.9 612.5C1088.3 618.1 1097.9 632.6 1100.1 635.7"/>
<path d="M1088.5 610.2 1155.8 580"/>
<path d="M1089.7 613.6C1093.8 612.3 1113.1 606.8 1121 603.2C1128.9 599.6 1144 590.1 1148.8 587C1153.6 583.9 1155.9 580.9 1156.9 580"/>
<path d="M1174.3 580 1181.3 589.3 1189.4 583.5"/>
<path d="M1181.3 589.3 1196.4 595.1"/>
<path d="M1143 645 1127.9 654.2"/>
<!-- 38_part8 -->
<path d="M815.8 416.7 825.8 417.5 925.8 575.3 865.8 575.3 844.2 550.8 819.2 515.8 799.2 484.2 788.3 460.8 789.2 453.7 813.3 433.3 818.7 432.5Z" class="wf"/>
<g class="o">
<path d="M870 575.3 846.7 548.3 821.7 513.3 801.7 481.7 790.8 460 791.7 455 815 435.8 821.7 435 818.3 420 823.3 420 850 465 873.3 500 896.7 536.7 921.7 575.3"/>
</g>
<path d="M822.5 435C822.8 436.7 823.8 448.3 825 451.7C826.2 455 832.5 464.2 835 468.3C837.5 472.5 846.8 488 850 493.3C853.2 498.7 863.3 516 866.7 521.7C870 527.3 880.3 544.6 883.3 550C886.3 555.4 895.3 572.8 896.7 575.3"/>
<path d="M812.5 442.5C812.6 443.1 812.4 446.4 813.3 448.3C814.2 450.2 819.2 457.5 821.7 461.7C824.2 465.8 834.7 483.8 838.3 490C842 496.2 854.3 516.7 858.3 523.3C862.3 530 875.3 551.5 878.3 556.7C881.3 561.9 887.3 573.5 888.3 575.3"/>
<path d="M821.3 420.8 823.7 439.2 825 452.5"/>
<path d="M830 438.3 916.7 575.3"/>
<path d="M826.7 452.5 840.8 448.3"/>
<path d="M827.3 454 841.3 449.8"/>
<path d="M840.8 476.7 855.8 472.5"/>
<path d="M841.5 478.2 856.3 474"/>
<path d="M856.7 501.7 871.7 496.7"/>
<path d="M857.3 503.2 872.2 498.2"/>
<path d="M870.8 525 885.8 520"/>
<path d="M871.5 526.5 886.3 521.5"/>
<path d="M888.3 548.3 901.7 544.2"/>
<path d="M889 549.8 902.2 545.7"/>
<path d="M811.7 478.3 824.2 470"/>
<path d="M812.3 479.8 824.7 471.5"/>
<path d="M825.8 501.7 839.2 492.5"/>
<path d="M826.5 503.2 839.7 494"/>
<path d="M845 530.8 858.3 522.5"/>
<path d="M845.7 532.3 858.8 524"/>
<path d="M863.3 550.8 874.2 543.3"/>
<path d="M864 552.3 874.7 544.8"/>
<path d="M812.5 458.3 815 455 815.8 460"/>
<path d="M826.7 462.3 829.7 461.7 830.3 465 827.3 465.7Z"/>
<path d="M833.3 474 836.3 473.3 837 476.7 834 477.3Z"/>
<path d="M841.7 487 844.7 486.3 845.3 489.7 842.3 490.3Z"/>
<path d="M849.2 498.7 852.2 498 852.8 501.3 849.8 502Z"/>
<path d="M857 510.7 860 510 860.7 513.3 857.7 514Z"/>
<path d="M864.2 522.3 867.2 521.7 867.8 525 864.8 525.7Z"/>
<path d="M871.7 533.7 874.7 533 875.3 536.3 872.3 537Z"/>
<path d="M879.2 546.2 882.2 545.5 882.8 548.8 879.8 549.5Z"/>
<ellipse cx="885" cy="563.7" rx="2.3" ry="2.5"/>
<g class="o">
<path d="M868.7 575 892.7 600 922.7 616.7 941 605 939.3 601.7 919.7 575"/>
</g>
<path d="M892 575 906 590 932.7 600"/>
<path d="M902.7 583.3 932.7 600 939.3 601.7"/>
<path d="M901 603.3 926 611.7"/>
<path d="M906 575 917.7 573.3"/>
<path d="M902.7 590 907.7 586.7 912.7 593.3 906 595Z"/>
<path d="M902 575 912.7 586.7"/>
<!-- 50_teal -->
<g class="t">
<path d="M407.5 705 416.2 696.2 422.5 690 432.5 678.8 441.2 667.5 446.2 660 455 651.2 466.2 645.6 473.8 646.9 476.2 639.4 487.5 633.1 495 626.9 505 620 510 615.8 543.3 598.3 553 593.1 566.1 586.5 574.9 583.8 577.4 581.2 586.1 576.2 594.2 574.8 623 569.4 624.9 567.8 635.5 566.9 653 569 658 571.2 661.8 572.8 668.6 551.9 671.8 549.8 679.2 550 683.6 553.1 685.2 557.5 684.9 562.5 688 565.6 689 570 683 583.1 694.2 588.1 699.9 591.9 700.5 596.2 696.8 615 690.5 640 686.8 655 679.2 670 673 680 673.6 687.5 670.5 702.5 665.5 712.5 656.8 718.8 651.8 718.1 645.5 710 643 703.8 634.2 708.1 618 712.5 603 714.4 594.2 717.5 578 726.2 565.5 735 553 745 543.8 751.2 535 757.5 525 766.2 512.5 778.8 500 788.1 489.4 793.8 492.5 795 491.9 815.6 480 821.9 467.5 817.5 462.5 807.5 458.8 792.5 438.8 787.5 431.2 782.5 423.8 775 417.5 765 412.5 755 410.6 746.9 412.5 745 410.6 738.8 411.2 730 409.4 720 406.5 712Z" class="tf"/>
<path d="M698 591.3C696.1 591 690.5 589.8 686.7 589.7C682.9 589.6 679.2 589.9 675 590.8C670.8 591.7 666.4 593.2 661.7 595C657 596.8 652.3 598.9 646.7 601.7C641.1 604.5 635 608 628.3 611.7C621.6 615.5 613.6 620 606.7 624.2C599.8 628.4 593.4 632.4 586.7 636.7C580 641 573.4 645.4 566.7 650C560 654.6 551.6 660.9 546.7 664.2C541.8 667.5 541.1 667.6 537.5 670C533.9 672.4 529.2 675.6 525 678.8C520.8 681.9 516.7 685.2 512.5 688.8C508.3 692.3 504.2 696.2 500 700C495.8 703.8 491.7 707.3 487.5 711.2C483.3 715.2 478.9 719.7 475 723.5C471.1 727.3 467 730.6 464 734C461 737.4 458.8 740.7 457 744C455.2 747.3 453.7 750.7 453 754C452.3 757.3 452.4 760.5 453 764C453.6 767.5 454.9 771.9 456.5 775C458.1 778.1 460.2 780.4 462.5 782.5C464.8 784.6 467.1 786 470 787.5C472.9 789 476.8 790.3 480 791.2C483.2 792.2 487.8 792.8 489.4 793.1"/>
<path d="M695 593.3C693.6 593.1 690 592.2 686.7 592.2C683.4 592.2 679.2 592.6 675 593.5C670.8 594.4 666.4 595.9 661.7 597.7C657 599.5 652.3 601.6 646.7 604.4C641.1 607.2 635 610.6 628.3 614.4C621.6 618.1 613.6 622.7 606.7 626.9C599.8 631.1 593.4 635.1 586.7 639.4C580 643.7 573.4 648.1 566.7 652.7C560 657.3 552.8 662.5 546.7 666.9C540.6 671.3 533.6 677 530 679.4C526.4 681.8 530 677.6 525 681.5C520 685.4 507.8 695.4 500 702.5C492.2 709.6 484.2 718.7 478.5 724C472.8 729.3 469.3 731 466 734.5C462.7 738 460.2 741.2 458.5 745C456.8 748.8 455.8 753.8 455.6 757.5C455.4 761.2 456.1 764.6 457.5 767.5C458.9 770.4 461.2 773 463.8 775C466.2 777 469.4 778.4 472.5 779.4C475.6 780.4 478.8 781.4 482.5 781.2C486.2 781.1 490.6 780.4 495 778.8C499.4 777.1 504.6 774.2 508.8 771.2C512.9 768.3 516.2 764.6 520 761.2C523.8 757.9 528.3 753.8 531.2 751.2C534.2 748.8 536.5 747.1 537.5 746.2"/>
<path d="M663.7 576.7C661.9 576.6 657.3 575.9 653.3 576C649.4 576.1 644.2 576.4 640 577C635.8 577.6 632.4 578.5 628.3 579.7C624.3 580.9 619.7 582.7 615.8 584.2C611.9 585.7 606.8 587.9 605 588.7"/>
<path d="M663.7 576.7 661.7 585.8"/>
<path d="M661.7 585.8C664.4 586 671.8 585.9 678 586.8C684.2 587.7 695.6 590.4 699.2 591.2"/>
<path d="M661.7 601.7 667.5 635.8 677.5 640 675 644.2"/>
<path d="M667.5 636.2 605.8 670.8"/>
<path d="M677.5 640 605 678.3"/>
<path d="M676.7 642 606.3 680"/>
<path d="M675 644.7 606.7 683.3"/>
<path d="M695.3 593.3C694.7 596.7 693.5 606.1 691.7 613.3C689.8 620.6 686.9 628.9 684.2 636.7C681.4 644.4 677.9 653.1 675 660C672.1 666.9 668.9 673.6 666.7 678.3C664.4 683.1 663.3 685.7 661.7 688.3C660 691 657.5 693.2 656.7 694.2"/>
<path d="M676.7 644.2C675.8 646.5 674.2 653.5 671.7 658.3C669.2 663.2 665.8 668.6 661.7 673.3C657.5 678.1 652.2 682.8 646.7 686.7C641.1 690.6 634.4 694.2 628.3 696.7C622.2 699.2 613.1 700.8 610 701.7"/>
<path d="M588.3 640.8C589.2 642.4 591.8 646.2 593.3 650C594.9 653.8 596.7 658.9 597.5 663.3C598.3 667.8 598.6 672.8 598.3 676.7C598.1 680.6 596.2 685 595.8 686.7"/>
<path d="M593.3 637.5C594.3 639.3 597.6 644.3 599.2 648.3C600.7 652.4 601.8 657.2 602.5 661.7C603.2 666.1 603.6 671.1 603.3 675C603.1 678.9 601.7 682.2 600.8 685C600 687.8 599.6 688.6 598.3 691.7C597.1 694.7 594.2 701.4 593.3 703.3"/>
<path d="M598.3 634.2C599.3 636 602.6 641 604.2 645C605.7 649 606.9 654.2 607.5 658.3C608.1 662.5 607.8 666.7 607.5 670C607.2 673.3 606.5 675.6 605.8 678.3C605.1 681.1 604.6 683.5 603.3 686.7C602.1 689.9 599.2 695.7 598.3 697.5"/>
<path d="M570 652.5C571.1 654.3 575.1 659.3 576.7 663.3C578.2 667.4 579 672.2 579.2 676.7C579.3 681.1 578.2 686.7 577.5 690C576.8 693.3 575.4 695.6 575 696.7"/>
<path d="M533.3 678.3C533.1 680.3 532.1 681.6 532.5 686.7C532.9 691.7 532.9 694.8 535 700C537.1 705.2 538.8 707.2 541.7 709.2C544.6 711.1 546.1 708.5 547.5 708.3"/>
<path d="M547.5 708.3 595.8 685"/>
<path d="M526.7 680.8C526.7 683.8 525.9 686.9 526.7 693.3C527.4 699.8 527.7 702.5 530 708.3C532.3 714.2 533.8 715.9 536.7 718.3C539.6 720.8 541.1 718.7 542.5 718.8"/>
<path d="M542.5 718.8 598.3 691.7"/>
<path d="M530 679.2C529.9 681.5 529.2 688.8 529.7 693.3C530.2 697.9 531.4 703.1 533 706.7C534.6 710.2 538.1 713.3 539.2 714.7"/>
<path d="M531.7 697.5 553.3 684.2" class="tk"/>
<path d="M548.3 685 553.3 676.7 559.2 670.8 566.7 672.5 570 675 567.5 680 560 686.7 553.3 687.5Z"/>
<ellipse cx="560" cy="675" rx="4.7" ry="3.3" transform="rotate(-20 560 675)"/>
<path d="M543.3 725.8 547.5 722.5 593.3 696.7 596.7 697.5 597 703.3 593.3 709.2 550 732.5 545 730.8Z"/>
<path d="M549.2 730 546.7 725.8 586.7 703.3"/>
<path d="M582.5 703.3 585 708.3 588.3 706.7"/>
<path d="M610.8 681.7C610.1 683.1 607.9 686.7 606.7 690C605.4 693.3 603.3 699.4 603.3 701.7C603.3 703.9 606.1 703.1 606.7 703.3"/>
<path d="M606.7 703.3 623.3 703.3 636.7 701.7 644.2 699.2"/>
<path d="M643 703.8 653 698.1 656.8 695 656.1 696.9"/>
<path d="M645.5 705 654.2 700"/>
<ellipse cx="659.5" cy="709.1" rx="2" ry="3.2" transform="rotate(20 659.5 709.1)"/>
<path d="M662.4 695.6 666.1 692.5 669.9 694.4 669.2 698.1 665.5 701.2 662.4 699.4Z"/>
<path d="M666.1 692.5 667.4 696.2 669.2 698.1"/>
<path d="M656.8 691.2 663 685 670.5 672.5"/>
<ellipse cx="678" cy="560" rx="2.8" ry="3.5"/>
<path d="M670.5 572.5C670.2 573.3 668.7 575.9 668.6 577.5C668.5 579.1 669.7 581.1 669.9 581.9"/>
<path d="M673.6 571.9C673.4 572.8 672.1 575.7 672 577.5C671.9 579.3 673 581.7 673.2 582.5"/>
<path d="M676.8 571.2C676.5 572.3 675.3 575.5 675.2 577.5C675.2 579.5 676.3 582.2 676.5 583.1"/>
<path d="M679.9 570.6 679 582.5"/>
<path d="M683 566.9 681.8 583.1"/>
<path d="M666.1 581.2 669.9 581.9 668.6 577.5"/>
<path d="M672.4 555 669.9 572.5"/>
<path d="M625.5 568.5 628.6 572.8" class="tk"/>
<path d="M630.8 568.6 633.9 572.8" class="tk"/>
<path d="M636 568.7 639.1 572.8" class="tk"/>
<path d="M641.2 568.8 644.4 572.8" class="tk"/>
<path d="M646.5 568.9 649.6 572.8" class="tk"/>
<path d="M651.8 569 654.9 572.8" class="tk"/>
<path d="M606.8 577.5 623 573.8 656.8 572.8"/>
<path d="M574.9 583.8 583.6 580 590.5 579.4 596.1 581.2"/>
<path d="M588 586.9 594.2 583.8 604.9 586.9 599.2 589.4Z"/>
<ellipse cx="602.4" cy="592.5" rx="2.1" ry="3"/>
<path d="M581.8 583.1 579.2 587.5 588 586.9"/>
<path d="M553 598.8 562.4 602.5 564.9 599.4 578 590.6"/>
<path d="M558 608.1 566.1 613.1 594.9 595"/>
<path d="M558 608.1 559.2 611.2"/>
<path d="M553 615 556.8 617.5 553 620"/>
<path d="M578 590.6 588 586.9"/>
<path d="M437.5 706.2C439.6 703.8 445.8 696.5 450 691.2C454.2 686 458.3 680 462.5 675C466.7 670 471.2 665 475 661.2C478.8 657.5 482.1 654.8 485 652.8C487.9 650.7 491.2 649.6 492.5 649"/>
<path d="M510 641.9C512.5 640.4 519.4 636.4 525 633.1C530.6 629.9 540.6 624.3 543.8 622.5"/>
<path d="M448.8 712.5C451 710 458.1 702.5 462.5 697.5C466.9 692.5 470.8 687.3 475 682.5C479.2 677.7 483.3 673.1 487.5 668.8C491.7 664.4 495.8 660.2 500 656.2C504.2 652.3 508.3 648.3 512.5 645C516.7 641.7 519.2 639.6 525 636.2C530.8 632.9 543.8 626.9 547.5 625"/>
<path d="M448.8 712.5 473.8 719.4"/>
<path d="M482.5 645 487.5 640.6 493.8 638.8 495 640.6 490 643.1 487.5 646.9Z"/>
<path d="M496.2 640 508.8 642.5 503.8 646.9 498.8 645"/>
<ellipse cx="501.5" cy="650.6" rx="2.2" ry="3"/>
<path d="M462.2 658.5 467.8 661" class="tk"/>
<path d="M456.6 664.4 462.1 666.9" class="tk"/>
<path d="M451 670 456.5 672.5" class="tk"/>
<path d="M445.4 675.6 450.9 678.1" class="tk"/>
<path d="M436.2 685 440 680 445 678.8 447.5 681.2"/>
<path d="M440 680 443.8 687.5"/>
<path d="M429.4 695.6 432.8 694.8 433.8 698.1"/>
<path d="M407.5 706.2C408.3 705.5 410.4 702.8 412.5 701.9C414.6 700.9 416.9 700.3 420 700.6C423.1 701 427 702.1 431.2 704C435.5 705.9 443.2 710.6 445.6 711.9"/>
<path d="M410 720C412.5 721 419.8 724 425 726.2C430.2 728.5 438.5 732.5 441.2 733.8"/>
<ellipse cx="417.5" cy="712.2" rx="2.2" ry="3.4"/>
<path d="M426.9 709.4 445 715 443.8 717.5 425.6 711.9Z" class="tk"/>
<path d="M423.8 715.6 443.8 721.9 442.5 724.4 422.5 718.1Z" class="tk"/>
<path d="M422.5 721.9 441.2 728.1 440 730.6 421.2 724.4Z" class="tk"/>
<path d="M505.6 698.1C505.7 699.7 505.7 704.3 506.2 707.5C506.8 710.7 507.5 714.4 508.8 717.5C510 720.6 512.9 724.8 513.8 726.2"/>
<path d="M513.8 726.2 525 727.5 535 726.2"/>
<path d="M457.5 760 512.5 730.6 525 725.6 535 725"/>
<path d="M460 768.1 525 733.1"/>
<path d="M462.5 771.5 521.2 743.1 530 746.9 539.4 745 523.8 742"/>
<path d="M508.8 720 512.5 725 517.5 727.5 535 725"/>
<path d="M480 780C482.3 779.2 488.8 777.9 493.8 775C498.8 772.1 504.8 767.1 510 762.5C515.2 757.9 522.5 750 525 747.5"/>
<path d="M423.1 730C423.8 733.5 424.7 744.2 426.9 751.2C429.1 758.3 434.1 766.9 436.2 772.5C438.4 778.1 439.4 782.9 440 785"/>
<path d="M426.2 731.2C426.9 734.2 428.1 742.7 430 748.8C431.9 754.8 435.3 761.9 437.5 767.5C439.7 773.1 442.2 780 443.1 782.5"/>
<path d="M430.6 732.5C431.1 735 432 742.1 433.8 747.5C435.5 752.9 437.9 759.2 441.2 765C444.6 770.8 450.8 779 453.8 782.5C456.7 786 457.9 785.6 458.8 786.2"/>
<path d="M433.8 738.1 453.8 743.1"/>
<path d="M438.8 760 448.8 760.6"/>
<path d="M420 763.8 438.8 768.1"/>
<path d="M412.5 720 440 732.5"/>
<path d="M438.8 785 458.8 788.1 487.5 795"/>
<path d="M468.1 798.1 473.1 795.6 476.2 799.4 473.1 802.5 477.5 805 478.8 809.4 473.8 813.1 471.2 811.2 470 806.2 471.9 803.1 468.8 801.2Z"/>
<ellipse cx="484.4" cy="810" rx="2" ry="3.5" transform="rotate(20 484.4 810)"/>
<path d="M461.2 791.2C461.9 793.8 463.8 802.3 465 806.2C466.2 810.2 468.1 813.5 468.8 815"/>
</g>
<!-- 80_arrows -->
<g class="ar">
<path d="M45.8 162.5 45.8 138.5" class="s"/>
<path d="M45.8 127.5 52.2 138.5 39.2 138.5Z" class="h"/>
<path d="M118.2 145 118.2 119.5" class="s"/>
<path d="M118.2 108.5 124.8 119.5 111.8 119.5Z" class="h"/>
<path d="M180.8 117.5 180.8 92.5" class="s"/>
<path d="M180.8 81.5 187.2 92.5 174.2 92.5Z" class="h"/>
<path d="M251.2 98.5 251.2 124" class="s"/>
<path d="M251.2 135 244.8 124 257.8 124Z" class="h"/>
</g>
<g class="ar">
<path d="M471.2 39.5 451.4 53.2" class="s"/>
<path d="M441.5 60 448.3 48.7 454.5 57.7Z" class="h"/>
</g>
<g class="ar">
<path d="M342.5 688.5 342.5 665.8" class="s"/>
<path d="M342.5 654.8 349 665.8 336 665.8Z" class="h"/>
</g>
<g class="ar">
<path d="M878.2 257 878.2 269.5"/>
<path d="M822.5 336 822.5 269.5 927.5 269.5 927.5 295"/>
<path d="M927.5 305.5 920.5 293.5 934.5 293.5Z" class="h"/>
</g>
<g class="ar">
<path d="M756 487.5 756 512" class="s"/>
<path d="M756 523.5 749.3 512 762.7 512Z" class="h"/>
</g>
<g class="ab">
<path d="M698.5 502 698.5 513.5"/>
<path d="M677.8 539.5 677.8 513.5 719.8 513.5 719.8 622"/>
<path d="M677.8 550.5 670.8 538.5 684.8 538.5Z" class="h"/>
</g>
<g class="ar">
<path d="M821.2 383.5 821.2 408" class="s"/>
<path d="M821.2 419.5 814.5 408 828 408Z" class="h"/>
</g>
<g class="ar">
<path d="M1005 778.5 1005 753.7" class="s"/>
<path d="M1005 741.7 1012 753.7 998 753.7Z" class="h"/>
<path d="M719.5 673 719.5 698" class="s"/>
<path d="M719.5 709.5 712.5 698 726.5 698Z" class="h"/>
</g>
<g class="ar">
<path d="M230.5 797.5 230.5 773.5" class="s"/>
<path d="M230.5 762 237.5 773.5 223.5 773.5Z" class="h"/>
<path d="M289.2 820 289.2 795.2" class="s"/>
<path d="M289.2 783.8 296.2 795.2 282.2 795.2Z" class="h"/>
<path d="M476 842.3 500.5 842.3" class="s"/>
<path d="M510.8 842.3 500.5 848.1 500.5 836.5Z" class="h"/>
</g>
<!-- 90_labels -->
<g class="lb">
<text x="472.2" y="49.3">12</text>
<text x="227.2" y="89.7">15</text>
<text x="158" y="157.2">11</text>
<text x="97.7" y="185.7">13</text>
<text x="22.2" y="203.5">14</text>
<text x="871" y="248.4">7</text>
<text x="812.3" y="375">8</text>
<text x="745.1" y="482">6</text>
<text x="681.6" y="498.2" class="b">1</text>
<text x="707.6" y="666.5">2</text>
<text x="317.2" y="728.5">10</text>
<text x="215.1" y="837.5">4</text>
<text x="278.3" y="860.2">5</text>
<text x="452.8" y="862.7">3</text>
<text x="993.4" y="819">9</text>
</g>
<text y="972" font-size="24" fill="#fb0505"><tspan x="5" textLength="256" lengthAdjust="spacingAndGlyphs">Listing Includes Part(s)</tspan> <tspan x="270.5">1</tspan></text>
<text x="1056" y="939" font-size="10.5" font-weight="bold" fill="#2e2e2e" textLength="108" lengthAdjust="spacing">Image provided by</text>
<text x="1054.5" y="964.5" font-size="32" fill="#14216a" stroke="#14216a" stroke-width="0.7" textLength="148" lengthAdjust="spacingAndGlyphs">part<tspan fill="#14b8a0" stroke="#14b8a0">out</tspan>pro</text>
</svg>
</body>
</html>
